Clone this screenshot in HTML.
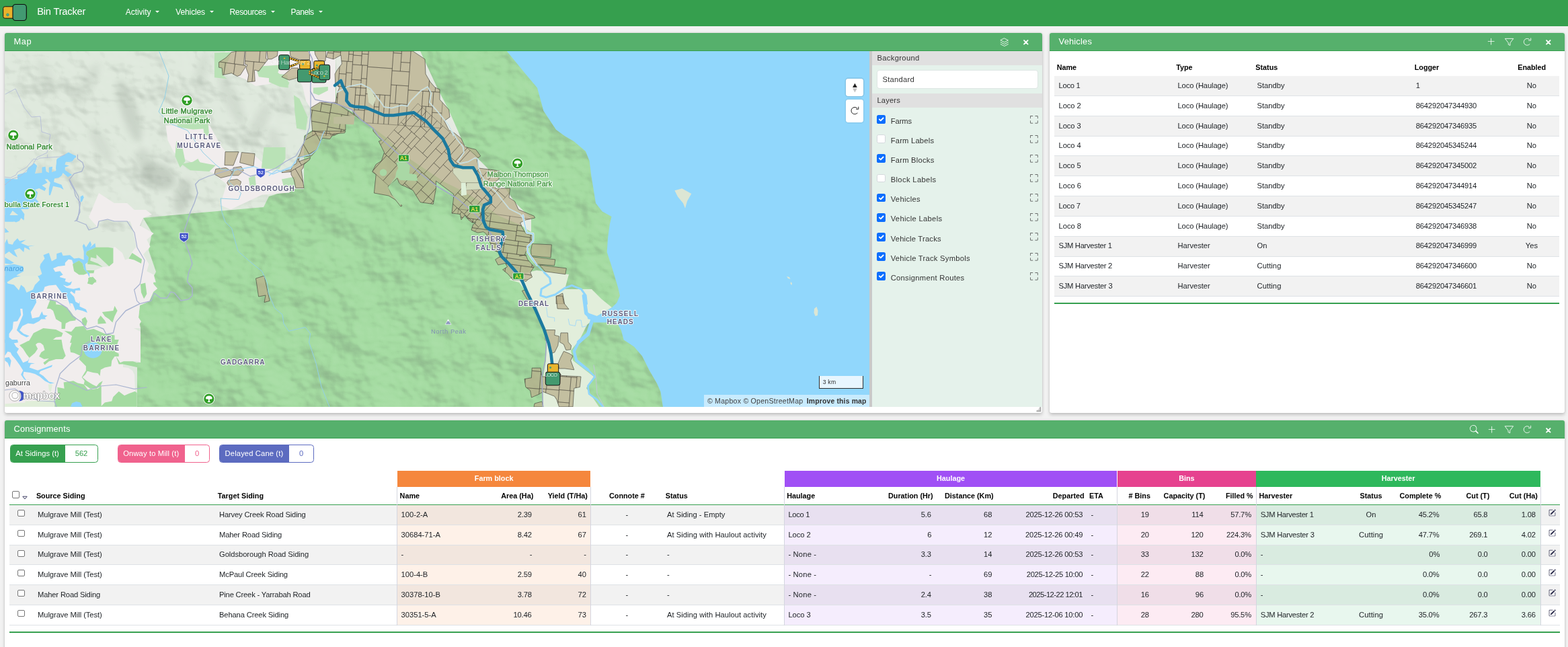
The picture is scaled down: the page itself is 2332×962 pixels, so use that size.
<!DOCTYPE html><html lang="en"><head><meta charset="utf-8"><title>Bin Tracker</title><style>
*{box-sizing:border-box}
html,body{margin:0;padding:0;width:2332px;height:962px;overflow:hidden}
#app{position:absolute;left:0;top:0;width:2332px;height:962px;overflow:hidden}
body{background:#f2f2f2;font-family:"Liberation Sans",sans-serif;font-size:11.2px;color:#212529;position:relative}
.t{position:absolute;white-space:pre;display:block}
.b{position:absolute}
.i{position:absolute;display:block;overflow:visible}
.panel{position:absolute;background:#fff;border-radius:3px;box-shadow:0 2.5px 5px rgba(0,0,0,.19),0 0 3px rgba(0,0,0,.1)}
.ph{position:absolute;left:0;top:0;right:0;height:27px;background:#56b06c;border-bottom:1.4px solid #36a04f;border-radius:3px 3px 0 0}
nav{position:absolute;left:0;top:0;width:2332px;height:38.6px;background:#369f4e}
.caret{position:absolute;width:0;height:0;border-left:3.2px solid transparent;border-right:3.2px solid transparent;border-top:3.3px solid #fff}
.cb{position:absolute;border-radius:2.6px}
.cb.on{background:#0d6efd}
.cb.off{background:#fff;border:1px solid #d5d9dd}
.cbs{position:absolute;width:10.4px;height:10.4px;border:1px solid #767676;border-radius:2px;background:#fff}
</style></head><body><div id="app">
<nav>
<svg class="i" style="left:0;top:0" width="48" height="39" viewBox="0 0 48 39"><rect x="4.7" y="9.8" width="17" height="17.4" rx="2.6" fill="#e8b22c" stroke="#111" stroke-width="1"/><circle cx="11.4" cy="21.9" r="1.9" fill="#4aa98a" stroke="#2b8a6e" stroke-width=".6"/><rect x="19" y="6.5" width="20.3" height="24" rx="4.2" fill="#429a72" stroke="#0b0b0b" stroke-width="1.1"/></svg>
<span class="t" style="left:55.20px;top:8.45px;font-size:14.7px;line-height:19.11px;color:#fff;letter-spacing:-0.198px;">Bin Tracker</span>
<span class="t" style="left:186.70px;top:11.24px;font-size:12px;line-height:15.6px;color:#fff;letter-spacing:-0.031px;">Activity</span>
<i class="caret" style="left:231.2px;top:16.2px"></i>
<span class="t" style="left:261.30px;top:11.24px;font-size:12px;line-height:15.6px;color:#fff;letter-spacing:-0.129px;">Vehicles</span>
<i class="caret" style="left:312.0px;top:16.2px"></i>
<span class="t" style="left:341.50px;top:11.24px;font-size:12px;line-height:15.6px;color:#fff;letter-spacing:-0.345px;">Resources</span>
<i class="caret" style="left:403.0px;top:16.2px"></i>
<span class="t" style="left:432.50px;top:11.24px;font-size:12px;line-height:15.6px;color:#fff;letter-spacing:-0.461px;">Panels</span>
<i class="caret" style="left:474.0px;top:16.2px"></i>
</nav>
<section class="panel" style="left:7px;top:49px;width:1543px;height:565px">
<div class="ph"></div>
<span class="t" style="left:13.40px;top:5.14px;font-size:12.8px;line-height:16.64px;color:#fff;letter-spacing:0.647px;">Map</span>
<svg class="i" style="left:1480.20px;top:6.60px" width="13.6" height="13.6" viewBox="0 0 16 16" fill="#fff" ><g fill="none" stroke="#fff" stroke-width="1" stroke-linejoin="round" stroke-linecap="round"><path d="M8 1.2 14.6 4.6 8 8 1.4 4.6z"/><path d="M1.4 8 8 11.4 14.6 8"/><path d="M1.4 11.4 8 14.8 14.6 11.4"/></g></svg>
<svg class="i" style="left:1514.20px;top:9.30px" width="9.6" height="9.6" viewBox="0 0 16 16" fill="#fff" ><g stroke="#fff" stroke-width="3.1" stroke-linecap="round"><path d="M3.4 3.4 12.6 12.6M12.6 3.4 3.4 12.6"/></g></svg>
<div class="b" style="left:0;top:27px;width:1286.2px;height:528.5px;overflow:hidden;background:#a9dcab"><svg width="1287" height="529" viewBox="7 76 1287 529" style="display:block;position:absolute;left:0;top:0;font-family:'Liberation Sans',sans-serif"><defs><filter id="bl" x="-30%" y="-30%" width="160%" height="160%"><feGaussianBlur stdDeviation="5"/></filter><filter id="bl2" x="-30%" y="-30%" width="160%" height="160%"><feGaussianBlur stdDeviation="2.2"/></filter></defs><rect x="7" y="76" width="1287" height="529" fill="#dfe9dd"/>
<polygon points="213.0,324.0 300.0,316.0 392.0,308.0 400.0,292.0 437.0,281.0 452.0,281.0 452.0,202.0 465.0,193.0 462.0,160.0 475.0,152.0 499.0,152.0 499.0,76.0 1294.0,76.0 1294.0,605.0 204.0,605.0 204.0,539.0 209.0,539.0 209.0,488.0 206.0,472.0 208.0,454.0 222.0,448.0 228.0,434.0 234.0,429.0 228.0,422.0 229.0,410.0 232.0,404.0 221.0,372.0 226.0,346.0" fill="#a4dba1" />
<filter id="hs" x="0" y="0" width="100%" height="100%" color-interpolation-filters="sRGB"><feTurbulence type="fractalNoise" baseFrequency="0.012 0.015" numOctaves="4" seed="11"/><feDiffuseLighting surfaceScale="16" diffuseConstant="1" lighting-color="#fff"><feDistantLight azimuth="315" elevation="45"/></feDiffuseLighting><feColorMatrix type="matrix" values="0 0 0 0 0.42  0 0 0 0 0.5  0 0 0 0 0.42  -1.2 0 0 0 0.8485"/></filter>
<filter id="hl" x="0" y="0" width="100%" height="100%" color-interpolation-filters="sRGB"><feTurbulence type="fractalNoise" baseFrequency="0.012 0.015" numOctaves="4" seed="11"/><feDiffuseLighting surfaceScale="16" diffuseConstant="1" lighting-color="#fff"><feDistantLight azimuth="315" elevation="45"/></feDiffuseLighting><feColorMatrix type="matrix" values="0 0 0 0 0.92  0 0 0 0 1.0  0 0 0 0 0.92  1.0 0 0 0 -0.7071"/></filter>
<filter id="hp" x="0" y="0" width="100%" height="100%" color-interpolation-filters="sRGB"><feTurbulence type="fractalNoise" baseFrequency="0.012 0.015" numOctaves="4" seed="5"/><feDiffuseLighting surfaceScale="14" diffuseConstant="1" lighting-color="#fff"><feDistantLight azimuth="315" elevation="45"/></feDiffuseLighting><feColorMatrix type="matrix" values="0 0 0 0 0.4  0 0 0 0 0.44  0 0 0 0 0.4  -1.2 0 0 0 0.8485"/></filter>
<filter id="hpl" x="0" y="0" width="100%" height="100%" color-interpolation-filters="sRGB"><feTurbulence type="fractalNoise" baseFrequency="0.012 0.015" numOctaves="4" seed="5"/><feDiffuseLighting surfaceScale="14" diffuseConstant="1" lighting-color="#fff"><feDistantLight azimuth="315" elevation="45"/></feDiffuseLighting><feColorMatrix type="matrix" values="0 0 0 0 1  0 0 0 0 1  0 0 0 0 1  1.0 0 0 0 -0.7071"/></filter>
<clipPath id="fc"><polygon points="213.0,324.0 300.0,316.0 392.0,308.0 400.0,292.0 437.0,281.0 452.0,281.0 452.0,202.0 465.0,193.0 462.0,160.0 475.0,152.0 499.0,152.0 499.0,76.0 753.8,76.0 780.4,108.6 799.0,130.5 808.4,164.8 827.0,192.8 839.6,201.9 853.3,210.0 871.0,225.0 876.6,239.0 879.3,260.9 882.0,277.0 886.0,302.0 895.8,314.4 909.5,322.0 906.8,333.7 904.0,354.3 902.7,374.9 908.2,391.4 913.7,409.2 919.0,427.0 922.0,439.4 917.3,450.3 910.4,457.0 888.0,470.0 881.3,474.3 883.0,479.5 917.3,479.5 924.0,491.5 927.6,505.2 943.0,515.5 955.0,529.2 965.3,549.8 977.3,570.4 982.5,582.4 986.0,605.0 204.0,605.0 204.0,605.0 204.0,539.0 209.0,539.0 209.0,488.0 206.0,472.0 208.0,454.0 222.0,448.0 228.0,434.0 234.0,429.0 228.0,422.0 229.0,410.0 232.0,404.0 221.0,372.0 226.0,346.0"/></clipPath>
<g clip-path="url(#fc)"><rect x="195" y="76" width="800" height="529" filter="url(#hs)" opacity=".5"/><rect x="195" y="76" width="800" height="529" filter="url(#hl)" opacity=".3"/></g>
<clipPath id="pc"><polygon points="7.0,76.0 500.0,76.0 500.0,160.0 462.0,165.0 452.0,205.0 452.0,285.0 392.0,312.0 213.0,328.0 205.0,345.0 132.0,345.0 100.0,270.0 7.0,250.0"/></clipPath>
<g clip-path="url(#pc)"><rect x="7" y="76" width="500" height="280" filter="url(#hp)" opacity=".32"/><rect x="7" y="76" width="500" height="280" filter="url(#hpl)" opacity=".25"/></g>
<g clip-path="url(#pc)">
<ellipse cx="192" cy="165" rx="12" ry="48" transform="rotate(-18 192 165)" fill="#5a665a" opacity="0.16" filter="url(#bl)"/>
<ellipse cx="236" cy="262" rx="26" ry="18" transform="rotate(25 236 262)" fill="#5a665a" opacity="0.2" filter="url(#bl)"/>
<ellipse cx="272" cy="292" rx="12" ry="26" transform="rotate(15 272 292)" fill="#5a665a" opacity="0.18" filter="url(#bl)"/>
<ellipse cx="215" cy="240" rx="12" ry="20" transform="rotate(-20 215 240)" fill="#5a665a" opacity="0.12" filter="url(#bl)"/>
<ellipse cx="345" cy="150" rx="10" ry="40" transform="rotate(-25 345 150)" fill="#5a665a" opacity="0.1" filter="url(#bl)"/>
<ellipse cx="385" cy="185" rx="10" ry="34" transform="rotate(25 385 185)" fill="#5a665a" opacity="0.1" filter="url(#bl)"/>
<ellipse cx="130" cy="125" rx="10" ry="36" transform="rotate(28 130 125)" fill="#5a665a" opacity="0.09" filter="url(#bl)"/>
<ellipse cx="70" cy="115" rx="9" ry="30" transform="rotate(-25 70 115)" fill="#5a665a" opacity="0.07" filter="url(#bl)"/>
<ellipse cx="300" cy="105" rx="9" ry="28" transform="rotate(15 300 105)" fill="#5a665a" opacity="0.08" filter="url(#bl)"/>
<ellipse cx="410" cy="215" rx="10" ry="26" transform="rotate(-15 410 215)" fill="#5a665a" opacity="0.09" filter="url(#bl)"/>
<ellipse cx="150" cy="215" rx="10" ry="30" transform="rotate(-30 150 215)" fill="#5a665a" opacity="0.09" filter="url(#bl)"/>
<ellipse cx="425" cy="150" rx="8" ry="22" transform="rotate(10 425 150)" fill="#5a665a" opacity="0.07" filter="url(#bl)"/>
</g>
<polygon points="335.0,76.0 499.0,76.0 499.0,153.0 476.0,153.0 462.0,161.0 455.0,150.0 450.0,128.0 440.0,112.0 420.0,118.0 400.0,125.0 380.0,128.0 365.0,118.0 350.0,112.0 338.0,100.0" fill="#f1eded" />
<polygon points="246.4,186.6 311.9,186.6 327.5,214.7 336.9,227.1 374.3,227.1 405.5,255.2 436.7,252.1 449.2,239.6 436.7,270.8 430.4,286.4 389.9,289.5 343.1,311.4 327.5,305.1 336.9,273.9 318.2,258.3 280.7,239.6 258.9,227.1 249.5,208.4" fill="#f1eded" />
<polygon points="757.0,416.0 771.0,408.0 798.0,402.0 846.0,408.0 840.0,430.0 880.0,430.0 895.0,445.0 910.0,457.0 888.0,470.0 873.0,483.0 862.0,505.0 849.0,521.0 852.0,536.0 883.0,560.0 872.0,577.0 891.0,605.0 807.0,605.0 808.0,560.0 812.0,536.0 813.0,508.0 807.0,483.0 797.0,457.0 785.0,437.0 772.0,420.0" fill="#e2eedb" />
<polygon points="753.8,76.0 780.4,108.6 799.0,130.5 808.4,164.8 827.0,192.8 839.6,201.9 853.3,210.0 871.0,225.0 876.6,239.0 879.3,260.9 882.0,277.0 886.0,302.0 895.8,314.4 909.5,322.0 906.8,333.7 904.0,354.3 902.7,374.9 908.2,391.4 913.7,409.2 919.0,427.0 922.0,439.4 917.3,450.3 910.4,457.0 888.0,470.0 881.3,474.3 883.0,479.5 917.3,479.5 924.0,491.5 927.6,505.2 943.0,515.5 955.0,529.2 965.3,549.8 977.3,570.4 982.5,582.4 986.0,605.0 1294.0,605.0 1294.0,76.0" fill="#91d7fc" />
<polygon points="1003.4,283.3 1014.3,280.2 1028.3,288.0 1022.0,298.9 1019.0,309.8 1015.9,302.0 1008.0,292.6" fill="#dce6d4" />
<polygon points="1170.0,411.0 1174.0,412.0 1175.5,415.0 1172.0,414.0" fill="#dce6d4" />
<polygon points="1176.0,419.0 1178.0,421.0 1177.5,424.0 1175.5,422.0" fill="#dce6d4" />
<polygon points="1211.0,459.0 1214.5,456.0 1216.5,462.0 1216.0,469.0 1212.5,470.0 1210.5,465.0" fill="#dce6d4" />
<polygon points="262.0,174.0 307.5,170.0 309.0,191.0 287.0,192.6 264.0,189.0" fill="#b9e2b6" />
<polygon points="262.3,209.6 271.7,220.9 275.5,239.8 267.9,249.2 260.4,232.3" fill="#b9e2b6" />
<polygon points="301.9,187.0 309.4,183.2 311.3,202.1 303.8,200.2" fill="#b9e2b6" />
<polygon points="392.5,219.1 424.5,219.1 424.5,236.0 415.1,251.1 388.7,251.1" fill="#b9e2b6" />
<polygon points="318.9,78.5 344.3,77.5 331.1,111.5 337.7,117.2 318.9,115.3" fill="#b9e2b6" />
<polygon points="382.1,105.8 390.6,98.3 417.9,96.4 413.2,107.7 430.2,122.8 429.2,126.6 409.4,117.2 384.9,114.3" fill="#b9e2b6" />
<polygon points="279.2,245.5 294.3,236.0 301.9,249.2 290.6,251.1" fill="#b9e2b6" />
<polygon points="400.0,108.4 427.4,111.2 428.8,130.4 416.5,129.0 400.0,122.1" fill="#b9e2b6" />
<polygon points="437.0,141.4 445.3,146.8 457.6,174.3 454.9,193.5 441.2,190.8 438.4,166.1" fill="#b9e2b6" />
<polygon points="465.9,130.4 487.8,129.0 487.8,134.5 474.1,141.4 465.9,138.6" fill="#b9e2b6" />
<polygon points="269.8,243.8 290.6,240.0 320.8,245.7 311.3,255.1 283.0,253.2" fill="#b9e2b6" />
<polygon points="369.8,264.5 379.2,260.8 381.1,277.7 371.7,277.7" fill="#b9e2b6" />
<polygon points="418.9,266.4 439.6,262.6 439.6,277.7 422.6,279.6" fill="#b9e2b6" />
<polygon points="129.9,320.0 155.9,326.2 171.5,328.3 192.3,326.2 197.5,340.8 202.7,366.8 195.4,376.1 191.3,384.4 186.1,386.5 181.9,376.1 170.5,366.8 168.4,368.9 168.4,390.7 162.2,395.9 152.8,396.9 140.3,402.1 139.3,406.3 133.1,406.3 133.1,412.5 138.3,411.5 143.5,419.8 231.8,419.8 228.7,408.4 218.3,403.2 221.4,392.8 213.1,378.2 223.5,366.8 218.3,356.4 228.7,347.0 207.9,335.6 213.1,320.0" fill="#f1eded" />
<polygon points="79.0,399.0 86.3,395.9 96.7,394.8 96.7,390.7 101.9,385.5 107.1,386.5 109.1,392.8 108.1,392.8 110.2,403.2 117.5,408.4 124.7,408.4 129.9,406.3 133.1,412.5 131.0,413.6 132.0,419.8 93.6,419.8 97.7,414.6 87.3,411.5 93.6,408.4 89.4,403.2 82.1,404.2" fill="#f1eded" />
<polygon points="132.0,323.0 147.0,287.0 170.0,302.0 189.0,302.0 200.0,312.0 217.0,312.0 226.0,319.0 213.0,324.0 208.0,335.0 200.0,330.0 189.0,329.0 170.0,329.0 160.0,326.0 147.0,329.0 145.0,338.0" fill="#f1eded" />
<polygon points="7.0,410.0 229.0,410.0 228.0,422.0 234.0,429.0 228.0,434.0 222.0,448.0 208.0,454.0 206.0,472.0 210.0,478.0 207.0,483.0 209.0,488.0 199.0,488.0 209.0,493.0 209.0,539.0 204.0,537.0 184.0,537.0 179.0,539.0 172.0,530.0 183.0,541.0 183.0,546.0 191.0,547.0 197.0,551.0 200.0,557.0 201.0,582.0 192.0,585.0 185.0,588.0 177.0,582.0 168.0,590.0 166.0,597.0 156.0,599.0 150.0,605.0 7.0,605.0" fill="#f1eded" />
<polygon points="7.3,320.0 33.3,320.0 36.4,326.2 31.2,324.2 29.1,328.3 23.9,330.4 15.6,327.3 12.5,322.1 7.3,329.4" fill="#8fd5fb" />
<polygon points="7.3,361.6 10.4,355.3 12.5,362.6 18.7,363.7 20.8,359.5 26.0,354.3 29.1,358.5 38.5,356.4 31.2,361.6 41.6,365.7 52.0,364.7 42.6,366.8 44.7,372.0 36.4,367.8 35.3,375.1 29.1,368.9 20.8,372.0 26.0,382.4 19.8,379.3 13.5,374.1 7.3,378.2" fill="#8fd5fb" />
<polygon points="7.3,338.7 13.5,344.9 7.3,346.0" fill="#8fd5fb" />
<polygon points="7.3,382.4 20.8,390.7 15.6,392.8 7.3,391.7" fill="#8fd5fb" />
<polygon points="60.3,392.8 66.5,384.4 64.4,379.3 72.8,376.1 76.9,388.6 84.2,384.4 84.2,377.2 91.5,375.1 93.6,380.3 104.0,379.3 110.2,384.4 117.5,383.4 124.7,386.5 124.7,374.1 122.7,365.7 124.7,362.6 127.9,367.8 134.1,358.5 136.2,363.7 134.1,367.8 141.4,361.6 142.4,367.8 128.9,374.1 127.9,378.2 132.0,382.4 131.0,389.6 126.8,392.8 127.9,401.1 133.1,406.3 133.1,412.5 129.9,406.3 124.7,400.0 122.7,391.7 117.5,387.6 109.1,392.8 107.1,386.5 101.9,385.5 96.7,390.7 96.7,394.8 86.3,395.9 79.0,399.0 82.1,404.2 89.4,403.2 93.6,408.4 87.3,411.5 97.7,414.6 93.6,419.8 60.3,419.8 56.1,411.5 62.4,407.3 59.3,396.9" fill="#8fd5fb" />
<polygon points="7.3,394.8 20.8,392.8 34.3,395.9 35.3,403.2 26.0,408.4 20.8,413.6 29.1,415.6 24.9,419.8 7.3,419.8" fill="#8fd5fb" />
<polygon points="7.3,410.0 89.4,410.0 88.4,413.1 93.6,417.3 97.7,414.2 96.7,418.3 102.9,420.4 107.1,418.3 105.0,423.5 99.8,425.6 93.6,423.5 98.8,427.7 109.1,429.8 118.5,427.7 119.5,431.8 112.3,431.8 111.2,437.0 106.0,432.9 104.0,434.9 110.2,441.2 112.3,448.5 117.5,451.6 118.5,447.4 118.5,455.7 127.9,459.9 129.9,465.1 122.7,462.0 114.3,459.9 112.3,462.0 108.1,451.6 104.0,450.5 105.0,455.7 101.9,447.4 99.8,441.2 93.6,437.0 88.4,430.8 83.2,423.5 72.8,424.6 66.5,426.6 64.4,432.9 52.0,436.0 54.1,449.5 48.9,458.9 45.7,464.1 47.8,473.4 58.2,471.3 62.4,463.0 64.4,468.2 70.7,469.3 66.5,472.4 68.6,474.4 61.3,474.4 58.2,477.6 49.9,481.7 41.6,480.7 33.3,484.8 29.1,491.1 35.3,496.3 43.7,499.4 39.5,501.5 31.2,497.3 24.9,491.1 28.1,482.8 34.3,468.2 33.3,458.9 30.1,458.9 31.2,468.2 26.0,477.6 19.8,478.6 18.7,489.0 13.5,496.3 13.5,501.5 23.9,509.8 7.3,509.8" fill="#8fd5fb" />
<polygon points="10.4,419.4 20.8,413.1 31.2,410.0 56.1,410.0 59.3,416.2 52.0,423.5 48.9,430.8 39.5,434.9 36.4,427.7 31.2,423.5 28.1,431.8 20.8,423.5 11.4,421.4" fill="#e2ebdd" />
<polygon points="7.3,505.0 26.0,505.0 27.0,509.2 20.8,510.2 23.9,515.4 28.1,518.5 24.9,523.7 30.1,532.0 34.3,539.3 41.6,536.2 43.7,532.0 41.6,539.3 52.0,540.3 45.7,541.4 43.7,546.6 56.1,550.7 72.8,544.5 78.0,542.4 76.9,545.5 60.3,551.8 58.2,554.9 64.4,559.1 72.8,567.4 81.1,569.4 74.8,570.5 66.5,566.3 59.3,560.1 52.0,555.9 44.7,553.9 35.3,552.8 34.3,558.0 39.5,566.3 35.3,563.2 31.2,557.0 34.3,550.7 29.1,542.4 22.9,534.1 17.7,527.9 15.6,523.7 11.4,522.7 7.3,528.9" fill="#8fd5fb" />
<polygon points="7.3,532.0 13.5,531.0 16.6,536.2 14.6,546.6 11.4,539.3 7.3,536.2" fill="#8fd5fb" />
<ellipse cx="138.300" cy="520.8" rx="13.4" ry="11.6" fill="#8fd5fb"/>
<polygon points="105.0,604.8 107.1,599.6 113.3,597.0 119.5,598.6 122.7,604.8" fill="#8fd5fb" />
<polygon points="7.3,273.7 7.3,265.3 26.0,266.4 26.0,260.1 39.5,256.0 41.6,249.8 50.9,242.5 55.1,246.6 52.0,258.1 62.4,257.0 62.4,248.7 67.6,247.7 68.6,254.9 72.8,257.0 72.8,248.7 78.0,247.7 76.9,256.0 83.2,253.9 84.2,237.3 90.4,236.2 101.9,230.0 112.3,231.0 113.3,234.2 99.8,235.2 100.8,239.4 110.2,241.4 104.0,240.9 96.7,240.4 95.6,244.6 102.9,246.6 96.7,248.7 96.7,252.9 107.1,260.1 100.8,263.3 93.6,257.0 91.5,261.2 87.3,264.3 81.1,265.3 80.0,270.5 91.5,274.7 94.6,282.0 89.4,278.9 79.0,276.8 76.9,284.1 74.8,290.3 72.8,290.3 72.8,279.9 74.8,271.6 70.7,266.4 66.5,266.4 70.7,271.6 62.4,275.7 68.6,279.9 66.5,284.1 58.2,279.9 52.0,282.0 56.1,286.1 54.1,294.4 48.9,296.5 39.5,296.5 26.0,296.5 13.5,300.7 7.3,304.8" fill="#8fd5fb" />
<polygon points="119.5,292.4 123.2,290.3 124.7,293.4 122.1,299.6 119.5,300.7" fill="#8fd5fb" />
<polygon points="7.3,296.5 13.5,294.4 26.0,296.5 36.4,292.4 52.0,294.4 56.1,298.6 61.3,309.0 52.0,302.8 41.6,311.1 31.2,311.1 36.4,318.4 35.3,327.7 29.1,321.5 18.7,313.2 14.6,319.4 20.8,329.8 7.3,329.8" fill="#8fd5fb" />
<polygon points="83.0,251.1 84.9,236.0 101.9,226.6 113.2,232.3 107.5,239.8 98.1,239.8 94.3,251.1" fill="#8fd5fb" />
<polygon points="128.9,374.1 142.4,367.8 161.1,367.8 168.4,368.9 168.4,390.7 162.2,395.9 143.5,378.2 143.5,384.4 135.1,382.4 134.1,387.6 145.5,391.7 152.8,396.9 141.4,393.8 129.9,392.8 132.0,382.4 127.9,378.2" fill="#a4dba1" />
<polygon points="108.1,392.8 117.5,387.6 122.7,391.7 124.7,400.0 129.9,406.3 124.7,408.4 117.5,408.4 110.2,403.2" fill="#a4dba1" />
<polygon points="191.3,384.4 196.5,376.1 211.0,385.5 210.0,391.7 199.6,386.5" fill="#a4dba1" />
<polygon points="131.0,413.6 138.3,411.5 143.5,419.8 132.0,419.8" fill="#a4dba1" />
<polygon points="128.9,402.1 140.3,402.1 139.3,406.3 133.1,406.3" fill="#a4dba1" />
<polygon points="129.9,421.4 133.1,412.1 139.3,413.1 143.5,417.3 137.2,423.5" fill="#a4dba1" />
<polygon points="69.6,458.9 74.8,445.3 83.2,448.5 83.2,452.6 93.6,453.7 104.0,462.0 109.1,469.3 113.3,472.4 112.3,476.5 104.0,477.6 97.7,480.7 96.7,489.0 91.5,489.0 91.5,479.6 83.2,474.4 79.0,462.0 74.8,458.9" fill="#a4dba1" />
<polygon points="151.8,464.1 168.4,462.0 170.5,454.7 174.6,462.0 170.5,470.3 167.4,479.6 162.2,474.4 155.9,470.3" fill="#a4dba1" />
<polygon points="145.5,475.5 149.7,469.3 155.9,476.5 158.0,480.7 145.5,481.7" fill="#a4dba1" />
<polygon points="121.6,474.4 126.8,471.3 129.9,477.6 127.9,484.8 122.7,482.8" fill="#a4dba1" />
<polygon points="208.9,422.5 216.2,420.4 218.3,437.0 214.1,444.3 210.0,434.9" fill="#a4dba1" />
<polygon points="41.6,509.8 49.9,495.2 64.4,488.0 83.2,490.0 93.6,495.2 91.5,500.4 83.2,501.5 72.8,509.8" fill="#a4dba1" />
<polygon points="104.0,509.8 107.1,499.4 95.6,492.1 106.0,493.2 112.3,485.9 124.7,484.8 128.9,491.1 139.3,489.0 155.9,496.3 170.5,498.4 170.5,509.8" fill="#a4dba1" />
<polygon points="29.1,513.3 41.6,507.1 54.1,505.0 91.5,505.0 93.6,517.5 97.7,528.9 93.6,534.1 83.2,534.1 72.8,537.2 66.5,542.4 64.4,539.3 72.8,533.1 65.5,534.1 58.2,529.9 61.3,523.7 66.5,520.6 64.4,513.3 58.2,508.1 53.0,512.3 56.1,518.5 52.0,524.8 43.7,532.0 39.5,526.8 34.3,518.5" fill="#a4dba1" />
<polygon points="105.0,523.7 104.0,517.5 108.1,505.0 176.7,505.0 170.5,522.7 176.7,525.8 176.7,529.9 170.5,529.9 166.3,536.2 165.3,544.5 155.9,546.6 149.7,549.7 148.6,559.1 145.5,554.9 138.3,553.9 129.9,551.8 126.8,557.0 122.7,561.1 128.9,566.3 137.2,571.5 143.5,574.6 147.6,569.4 152.8,566.3 149.7,573.6 143.5,577.8 134.1,577.8 124.7,571.5 125.8,566.3 121.6,561.1 127.9,550.7 127.9,544.5 117.5,534.1 119.5,528.9 110.2,524.8" fill="#a4dba1" />
<polygon points="172.6,529.9 178.8,539.3 184.0,537.2 197.5,537.2 203.7,539.3 205.8,546.6 183.0,541.4 176.7,541.4" fill="#a4dba1" />
<polygon points="81.1,604.8 82.1,595.4 86.3,588.2 85.2,575.7 95.6,577.8 94.6,568.4 109.1,566.3 115.4,569.4 124.7,571.5 131.0,579.8 145.5,577.8 150.7,573.6 150.7,604.8" fill="#a4dba1" />
<polygon points="149.7,604.8 155.9,598.6 166.3,596.5 168.4,590.2 176.7,581.9 185.0,588.2 192.3,585.0 200.6,581.9 203.7,584.0 203.7,604.8" fill="#a4dba1" />
<polygon points="37.4,596.5 72.8,595.4 78.0,571.5 71.7,571.5 72.8,579.8 80.0,588.2 81.1,604.8 7.3,604.8 7.3,600.6 37.4,598.6" fill="#e0eed9" />
<ellipse cx="138.300" cy="520.8" rx="13.4" ry="11.6" fill="#8fd5fb"/>
<polygon points="105.0,604.8 107.1,599.6 113.3,597.0 119.5,598.6 122.7,604.8" fill="#8fd5fb" />
<polygon points="499.0,76.0 625.0,76.0 650.0,130.0 668.0,165.0 690.0,215.0 715.0,240.0 745.0,270.0 765.0,300.0 790.0,325.0 790.0,345.0 775.0,335.0 740.0,320.0 715.0,300.0 690.0,285.0 660.0,270.0 630.0,250.0 600.0,230.0 575.0,205.0 555.0,190.0 530.0,170.0 500.0,152.0" fill="#f1eded" opacity=".85"/>
<polygon points="487.8,76.0 614.0,76.0 632.0,88.0 633.0,110.0 640.0,122.0 647.0,130.0 654.0,133.0 654.0,148.0 667.6,163.0 669.0,174.0 660.7,179.8 667.6,193.5 676.0,198.0 686.0,206.0 691.4,218.3 707.8,222.4 714.7,232.0 709.0,236.0 712.0,250.0 743.5,254.0 742.0,266.4 734.0,272.0 736.6,280.0 758.6,280.0 757.0,293.8 765.5,299.3 771.0,311.6 794.3,321.2 795.6,324.0 782.0,326.9 773.7,331.0 776.4,337.8 782.0,347.4 791.5,350.2 790.2,361.2 782.0,375.0 780.5,379.0 772.3,380.4 782.0,379.0 784.7,385.9 794.3,396.8 788.8,405.0 791.5,412.0 784.7,416.0 782.0,418.8 777.8,416.0 762.7,416.0 755.8,407.8 747.6,401.0 754.5,396.8 751.7,391.4 740.8,394.0 736.6,385.9 743.5,381.7 740.8,374.9 733.9,372.0 722.9,347.4 718.8,344.7 710.6,346.0 701.0,342.0 703.7,333.7 707.8,331.0 702.3,331.0 696.8,326.9 691.4,320.0 686.0,326.7 684.5,318.5 672.0,317.0 674.9,291.0 674.4,288.3 648.4,269.0 648.4,280.0 644.3,303.4 625.0,300.7 614.0,282.8 603.0,277.3 596.2,274.6 593.5,271.8 590.8,265.0 577.0,277.3 582.4,289.7 590.7,296.5 598.0,306.0 596.0,307.0 588.0,297.0 578.0,291.0 556.4,287.0 559.2,259.5 553.7,255.4 559.2,244.4 567.4,239.0 571.5,226.6 563.3,210.0 567.4,208.7 555.0,195.0 555.0,190.8 537.2,178.4 527.6,171.5 523.5,163.3 498.8,153.7 501.5,138.6 505.0,130.0 498.8,125.0 498.1,110.0 501.5,104.0 508.4,95.0 507.0,82.0 496.0,88.0 485.0,85.0" fill="#b9b08c" stroke="#3b3a33" stroke-width="0.7" stroke-linejoin="round" stroke-opacity=".85" fill-opacity=".76"/>
<polygon points="498.8,152.3 527.6,171.5 513.9,177.0 513.9,193.5 496.1,201.7 464.5,201.7 464.5,193.5 461.7,160.6 475.5,152.3" fill="#b9b08c" stroke="#3b3a33" stroke-width="0.7" stroke-linejoin="round" stroke-opacity=".85" fill-opacity=".76"/>
<polygon points="464.5,195.0 514.0,195.0 512.5,197.7 496.0,199.0 490.6,206.7 479.6,205.3 476.8,210.0 471.4,222.4 463.0,232.0 445.3,233.4 444.0,240.3 461.7,234.0 460.4,237.5 452.0,244.4 450.8,250.0 448.0,252.6 452.0,279.4 439.8,279.4 437.0,266.4 433.0,259.5 433.0,255.4 419.2,256.7 419.2,254.0 433.0,252.6 434.3,247.0 441.0,243.0 442.5,234.8 445.3,230.7 452.0,211.5 453.5,201.9 460.4,197.7" fill="#b9b08c" stroke="#3b3a33" stroke-width="0.7" stroke-linejoin="round" stroke-opacity=".85" fill-opacity=".76"/>
<polygon points="325.5,92.6 335.8,86.0 344.3,77.5 352.8,76.1 364.2,76.1 362.3,96.4 366.0,98.3 362.3,104.0 357.5,111.5 352.8,113.4 344.3,108.7 331.1,111.5 330.2,101.1 325.5,100.2" fill="#b9b08c" stroke="#3b3a33" stroke-width="0.7" stroke-linejoin="round" stroke-opacity=".85" fill-opacity=".76"/>
<polygon points="365.1,76.1 396.2,76.1 395.3,87.0 398.1,88.9 390.6,98.3 387.7,102.1 384.9,105.8 378.3,104.0 379.2,120.9 367.9,121.9 369.8,111.5 366.0,101.1 367.9,96.4 364.2,95.5" fill="#b9b08c" stroke="#3b3a33" stroke-width="0.7" stroke-linejoin="round" stroke-opacity=".85" fill-opacity=".76"/>
<polygon points="397.2,76.1 413.2,76.1 412.3,83.2 403.8,87.9 398.1,87.9" fill="#b9b08c" stroke="#3b3a33" stroke-width="0.7" stroke-linejoin="round" stroke-opacity=".85" fill-opacity=".76"/>
<polygon points="431.1,76.1 460.4,76.1 460.4,88.9 445.3,88.9 432.1,84.2" fill="#b9b08c" stroke="#3b3a33" stroke-width="0.7" stroke-linejoin="round" stroke-opacity=".85" fill-opacity=".76"/>
<polygon points="418.9,114.3 434.0,101.1 443.4,101.1 443.4,115.3 430.2,119.1" fill="#b9b08c" stroke="#3b3a33" stroke-width="0.7" stroke-linejoin="round" stroke-opacity=".85" fill-opacity=".76"/>
<polygon points="467.9,76.1 484.9,76.1 484.0,90.8 473.6,89.8 468.9,81.3" fill="#b9b08c" stroke="#3b3a33" stroke-width="0.7" stroke-linejoin="round" stroke-opacity=".85" fill-opacity=".76"/>
<polygon points="335.0,225.7 355.0,225.7 347.0,246.0 334.0,245.5" fill="#b9b08c" stroke="#3b3a33" stroke-width="0.7" stroke-linejoin="round" stroke-opacity=".85" fill-opacity=".76"/>
<polygon points="359.4,226.6 379.0,228.5 377.0,247.0 356.6,241.7" fill="#b9b08c" stroke="#3b3a33" stroke-width="0.7" stroke-linejoin="round" stroke-opacity=".85" fill-opacity=".76"/>
<polygon points="320.8,251.3 335.8,249.4 345.3,255.0 343.4,260.8 328.3,264.5 318.9,258.9" fill="#b9b08c" stroke="#3b3a33" stroke-width="0.7" stroke-linejoin="round" stroke-opacity=".85" fill-opacity=".76"/>
<polygon points="347.0,249.4 358.5,247.5 362.3,253.2 354.7,260.8 345.3,260.8" fill="#b9b08c" stroke="#3b3a33" stroke-width="0.7" stroke-linejoin="round" stroke-opacity=".85" fill-opacity=".76"/>
<polygon points="339.6,268.3 352.8,266.4 358.5,270.0 356.6,277.7 341.5,277.7 337.7,272.0" fill="#b9b08c" stroke="#3b3a33" stroke-width="0.7" stroke-linejoin="round" stroke-opacity=".85" fill-opacity=".76"/>
<polygon points="380.5,414.0 393.0,410.0 397.0,428.7 401.0,447.4 393.0,449.5 395.0,439.0 384.6,441.0" fill="#b9b08c" stroke="#3b3a33" stroke-width="0.7" stroke-linejoin="round" stroke-opacity=".85" fill-opacity=".76"/>
<polygon points="791.5,362.5 820.3,363.9 819.0,383.1 790.2,380.4 789.5,372.1" fill="#b9b08c" stroke="#3b3a33" stroke-width="0.7" stroke-linejoin="round" stroke-opacity=".85" fill-opacity=".76"/>
<polygon points="790.2,381.7 825.8,385.9 824.5,394.8 795.6,392.7" fill="#b9b08c" stroke="#3b3a33" stroke-width="0.7" stroke-linejoin="round" stroke-opacity=".85" fill-opacity=".76"/>
<polygon points="802.5,394.1 842.3,398.9 840.9,407.8 810.7,403.7" fill="#b9b08c" stroke="#3b3a33" stroke-width="0.7" stroke-linejoin="round" stroke-opacity=".85" fill-opacity=".76"/>
<polygon points="776.4,432.5 780.5,431.1 788.8,446.2 784.7,446.2" fill="#b9b08c" stroke="#3b3a33" stroke-width="0.7" stroke-linejoin="round" stroke-opacity=".85" fill-opacity=".76"/>
<polygon points="827.2,440.8 836.8,436.0 839.6,451.7 827.2,451.7" fill="#b9b08c" stroke="#3b3a33" stroke-width="0.7" stroke-linejoin="round" stroke-opacity=".85" fill-opacity=".76"/>
<polygon points="827.2,440.0 836.7,440.0 838.4,450.3 846.0,459.7 829.0,458.9" fill="#b9b08c" stroke="#3b3a33" stroke-width="0.7" stroke-linejoin="round" stroke-opacity=".85" fill-opacity=".76"/>
<polygon points="811.8,490.6 825.5,490.6 824.7,498.3 831.5,500.0 829.8,513.8 824.7,524.0 817.8,525.8 816.0,512.0 811.0,505.2" fill="#b9b08c" stroke="#3b3a33" stroke-width="0.7" stroke-linejoin="round" stroke-opacity=".85" fill-opacity=".76"/>
<polygon points="834.0,494.9 844.4,494.9 845.2,508.6 849.5,513.8 848.7,519.8 841.8,520.6 838.4,512.0 832.4,508.6" fill="#b9b08c" stroke="#3b3a33" stroke-width="0.7" stroke-linejoin="round" stroke-opacity=".85" fill-opacity=".76"/>
<polygon points="838.4,522.3 847.0,525.8 852.0,529.2 848.7,536.0 853.8,549.8 840.0,548.0 831.5,548.0 829.8,541.2 833.2,532.6" fill="#b9b08c" stroke="#3b3a33" stroke-width="0.7" stroke-linejoin="round" stroke-opacity=".85" fill-opacity=".76"/>
<polygon points="791.2,547.2 804.0,547.2 805.8,560.0 811.0,560.0 812.7,553.2 831.5,553.2 835.0,558.4 864.0,560.0 862.4,575.5 853.8,577.2 852.0,604.9 831.5,604.9 828.0,594.4 824.7,589.2 807.5,582.4 802.4,585.8 790.4,591.0 788.6,580.7 781.8,575.5 780.0,563.5 790.4,561.8" fill="#b9b08c" stroke="#3b3a33" stroke-width="0.7" stroke-linejoin="round" stroke-opacity=".85" fill-opacity=".76"/>
<polygon points="795.0,600.0 806.0,597.0 808.0,605.0 794.0,605.0" fill="#b9b08c" stroke="#3b3a33" stroke-width="0.7" stroke-linejoin="round" stroke-opacity=".85" fill-opacity=".76"/>
<clipPath id="c1"><polygon points="487.8,76.0 614.0,76.0 632.0,88.0 633.0,110.0 640.0,122.0 647.0,130.0 654.0,133.0 654.0,148.0 667.6,163.0 669.0,174.0 660.7,179.8 667.6,193.5 676.0,198.0 686.0,206.0 691.4,218.3 707.8,222.4 714.7,232.0 709.0,236.0 712.0,250.0 743.5,254.0 742.0,266.4 734.0,272.0 736.6,280.0 758.6,280.0 757.0,293.8 765.5,299.3 771.0,311.6 794.3,321.2 795.6,324.0 782.0,326.9 773.7,331.0 776.4,337.8 782.0,347.4 791.5,350.2 790.2,361.2 782.0,375.0 780.5,379.0 772.3,380.4 782.0,379.0 784.7,385.9 794.3,396.8 788.8,405.0 791.5,412.0 784.7,416.0 782.0,418.8 777.8,416.0 762.7,416.0 755.8,407.8 747.6,401.0 754.5,396.8 751.7,391.4 740.8,394.0 736.6,385.9 743.5,381.7 740.8,374.9 733.9,372.0 722.9,347.4 718.8,344.7 710.6,346.0 701.0,342.0 703.7,333.7 707.8,331.0 702.3,331.0 696.8,326.9 691.4,320.0 686.0,326.7 684.5,318.5 672.0,317.0 674.9,291.0 674.4,288.3 648.4,269.0 648.4,280.0 644.3,303.4 625.0,300.7 614.0,282.8 603.0,277.3 596.2,274.6 593.5,271.8 590.8,265.0 577.0,277.3 582.4,289.7 590.7,296.5 598.0,306.0 596.0,307.0 588.0,297.0 578.0,291.0 556.4,287.0 559.2,259.5 553.7,255.4 559.2,244.4 567.4,239.0 571.5,226.6 563.3,210.0 567.4,208.7 555.0,195.0 555.0,190.8 537.2,178.4 527.6,171.5 523.5,163.3 498.8,153.7 501.5,138.6 505.0,130.0 498.8,125.0 498.1,110.0 501.5,104.0 508.4,95.0 507.0,82.0 496.0,88.0 485.0,85.0"/></clipPath>
<path clip-path="url(#c1)" d="M474.6 53.5L484.8 54.2L482.9 81.7L472.6 81.0L474.6 53.5M472.6 81.0L482.9 81.7L480.9 110.1L470.7 109.3L472.6 81.0M470.7 109.3L480.9 110.1L480.0 122.3L469.8 121.6L470.7 109.3M484.8 54.2L497.8 55.1L496.1 79.1L483.1 78.2L484.8 54.2M483.1 78.2L496.1 79.1L494.7 98.3L481.8 97.4L483.1 78.2M497.8 55.1L508.1 55.9L506.6 77.9L496.2 77.1L497.8 55.1M496.2 77.1L506.6 77.9L505.1 99.1L494.7 98.3L496.2 77.1M481.8 97.4L505.1 99.1L503.4 123.9L480.0 122.3L481.8 97.4M469.8 121.6L490.0 123.0L486.1 178.6L465.9 177.2L469.8 121.6M490.0 123.0L503.4 123.9L501.9 145.1L488.6 144.1L490.0 123.0M488.6 144.1L501.9 145.1L500.8 159.9L487.5 159.0L488.6 144.1M487.5 159.0L500.8 159.9L499.5 179.6L486.1 178.6L487.5 159.0M508.1 55.9L520.4 56.7L519.6 69.0L507.3 68.1L508.1 55.9M507.3 68.1L519.6 69.0L518.0 91.4L505.7 90.5L507.3 68.1M520.4 56.7L527.0 57.2L525.4 80.9L518.8 80.5L520.4 56.7M518.8 80.5L525.4 80.9L524.6 91.8L518.0 91.4L518.8 80.5M505.7 90.5L516.1 91.2L514.8 110.2L504.4 109.5L505.7 90.5M504.4 109.5L514.8 110.2L513.5 129.0L503.0 128.3L504.4 109.5M516.1 91.2L524.6 91.8L523.5 108.5L515.0 107.9L516.1 91.2M515.0 107.9L523.5 108.5L522.0 129.6L513.5 129.0L515.0 107.9M527.0 57.2L539.9 58.1L538.1 82.9L525.3 82.0L527.0 57.2M525.3 82.0L538.1 82.9L537.2 96.8L524.3 95.9L525.3 82.0M539.9 58.1L549.5 58.8L547.9 80.7L538.3 80.1L539.9 58.1M538.3 80.1L547.9 80.7L546.8 97.4L537.2 96.8L538.3 80.1M524.3 95.9L538.8 96.9L537.2 119.2L522.8 118.2L524.3 95.9M522.8 118.2L537.2 119.2L536.4 130.6L522.0 129.6L522.8 118.2M538.8 96.9L546.8 97.4L545.4 117.2L537.4 116.6L538.8 96.9M537.4 116.6L545.4 117.2L544.4 131.2L536.4 130.6L537.4 116.6M503.0 128.3L529.2 130.1L525.6 181.4L499.5 179.6L503.0 128.3M529.2 130.1L536.3 130.6L535.5 141.7L528.4 141.2L529.2 130.1M536.3 130.6L544.4 131.2L543.6 142.2L535.5 141.7L536.3 130.6M528.4 141.2L534.8 141.6L533.2 163.5L526.9 163.0L528.4 141.2M534.8 141.6L543.6 142.2L542.1 164.1L533.2 163.5L534.8 141.6M526.9 163.0L542.1 164.1L540.8 182.5L525.6 181.4L526.9 163.0M549.5 58.8L586.2 61.3L583.4 101.9L546.6 99.3L549.5 58.8M546.6 99.3L583.4 101.9L580.6 142.0L543.8 139.5L546.6 99.3M543.8 139.5L557.7 140.4L556.1 163.8L542.2 162.9L543.8 139.5M542.2 162.9L556.1 163.8L554.7 183.4L540.8 182.5L542.2 162.9M557.7 140.4L565.0 140.9L563.7 159.2L556.5 158.7L557.7 140.4M556.5 158.7L563.7 159.2L562.0 183.9L554.7 183.4L556.5 158.7M565.0 140.9L572.5 141.5L570.5 169.8L563.0 169.3L565.0 140.9M572.5 141.5L580.6 142.0L578.6 170.4L570.5 169.8L572.5 141.5M563.0 169.3L571.7 169.9L570.7 184.5L562.0 183.9L563.0 169.3M571.7 169.9L578.6 170.4L577.6 185.0L570.7 184.5L571.7 169.9M586.2 61.3L598.4 62.2L597.2 79.5L585.0 78.6L586.2 61.3M585.0 78.6L597.2 79.5L595.3 106.0L583.1 105.1L585.0 78.6M598.4 62.2L612.0 63.1L609.9 93.4L596.3 92.5L598.4 62.2M596.3 92.5L609.9 93.4L609.0 106.9L595.3 106.0L596.3 92.5M583.1 105.1L609.0 106.9L607.5 127.9L581.7 126.1L583.1 105.1M581.7 126.1L589.6 126.7L587.7 154.1L579.8 153.6L581.7 126.1M589.6 126.7L607.5 127.9L605.6 155.4L587.7 154.1L589.6 126.7M579.8 153.6L594.0 154.6L591.8 186.0L577.6 185.0L579.8 153.6M594.0 154.6L605.6 155.4L603.4 186.8L591.8 186.0L594.0 154.6M612.0 63.1L642.4 65.3L637.4 136.0L607.1 133.9L612.0 63.1M642.4 65.3L651.1 65.9L649.6 87.5L640.9 86.9L642.4 65.3M640.9 86.9L649.6 87.5L648.2 106.2L639.5 105.6L640.9 86.9M651.1 65.9L664.1 66.8L662.8 84.8L649.8 83.8L651.1 65.9M649.8 83.8L662.8 84.8L661.3 107.1L648.2 106.2L649.8 83.8M639.5 105.6L649.3 106.3L647.1 136.7L637.4 136.0L639.5 105.6M649.3 106.3L661.3 107.1L659.1 137.5L647.1 136.7L649.3 106.3M607.1 133.9L629.0 135.4L625.3 188.4L603.4 186.8L607.1 133.9M629.0 135.4L638.9 136.1L637.3 158.5L627.4 157.8L629.0 135.4M638.9 136.1L644.9 136.5L643.3 159.0L637.3 158.5L638.9 136.1M627.4 157.8L633.4 158.3L631.2 188.8L625.3 188.4L627.4 157.8M633.4 158.3L643.3 159.0L641.2 189.5L631.2 188.8L633.4 158.3M644.9 136.5L659.1 137.5L657.0 168.2L642.7 167.2L644.9 136.5M642.7 167.2L657.0 168.2L655.4 190.5L641.2 189.5L642.7 167.2" fill="none" stroke="#3b3a33" stroke-width="0.6" opacity="0.62"/>
<clipPath id="c2"><polygon points="487.8,76.0 614.0,76.0 632.0,88.0 633.0,110.0 640.0,122.0 647.0,130.0 654.0,133.0 654.0,148.0 667.6,163.0 669.0,174.0 660.7,179.8 667.6,193.5 676.0,198.0 686.0,206.0 691.4,218.3 707.8,222.4 714.7,232.0 709.0,236.0 712.0,250.0 743.5,254.0 742.0,266.4 734.0,272.0 736.6,280.0 758.6,280.0 757.0,293.8 765.5,299.3 771.0,311.6 794.3,321.2 795.6,324.0 782.0,326.9 773.7,331.0 776.4,337.8 782.0,347.4 791.5,350.2 790.2,361.2 782.0,375.0 780.5,379.0 772.3,380.4 782.0,379.0 784.7,385.9 794.3,396.8 788.8,405.0 791.5,412.0 784.7,416.0 782.0,418.8 777.8,416.0 762.7,416.0 755.8,407.8 747.6,401.0 754.5,396.8 751.7,391.4 740.8,394.0 736.6,385.9 743.5,381.7 740.8,374.9 733.9,372.0 722.9,347.4 718.8,344.7 710.6,346.0 701.0,342.0 703.7,333.7 707.8,331.0 702.3,331.0 696.8,326.9 691.4,320.0 686.0,326.7 684.5,318.5 672.0,317.0 674.9,291.0 674.4,288.3 648.4,269.0 648.4,280.0 644.3,303.4 625.0,300.7 614.0,282.8 603.0,277.3 596.2,274.6 593.5,271.8 590.8,265.0 577.0,277.3 582.4,289.7 590.7,296.5 598.0,306.0 596.0,307.0 588.0,297.0 578.0,291.0 556.4,287.0 559.2,259.5 553.7,255.4 559.2,244.4 567.4,239.0 571.5,226.6 563.3,210.0 567.4,208.7 555.0,195.0 555.0,190.8 537.2,178.4 527.6,171.5 523.5,163.3 498.8,153.7 501.5,138.6 505.0,130.0 498.8,125.0 498.1,110.0 501.5,104.0 508.4,95.0 507.0,82.0 496.0,88.0 485.0,85.0"/></clipPath>
<path clip-path="url(#c2)" d="M621.5 153.8L628.2 159.8L616.0 173.3L609.3 167.4L621.5 153.8M628.2 159.8L634.3 165.3L622.1 178.9L616.0 173.3L628.2 159.8M609.3 167.4L613.2 170.9L600.4 185.1L596.5 181.6L609.3 167.4M613.2 170.9L622.1 178.9L609.3 193.1L600.4 185.1L613.2 170.9M634.3 165.3L640.9 171.3L630.6 182.7L624.0 176.8L634.3 165.3M624.0 176.8L630.6 182.7L615.9 199.1L609.3 193.1L624.0 176.8M640.9 171.3L650.1 179.6L634.9 196.4L625.7 188.1L640.9 171.3M625.7 188.1L634.9 196.4L625.1 207.3L615.9 199.1L625.7 188.1M596.5 181.6L602.5 187.0L592.2 198.5L586.2 193.1L596.5 181.6M602.5 187.0L612.2 195.7L601.9 207.1L592.2 198.5L602.5 187.0M586.2 193.1L597.1 202.8L587.1 213.8L576.3 204.1L586.2 193.1M576.3 204.1L587.1 213.8L573.1 229.4L562.3 219.6L576.3 204.1M597.1 202.8L601.9 207.1L589.5 220.8L584.7 216.5L597.1 202.8M584.7 216.5L589.5 220.8L577.9 233.7L573.1 229.4L584.7 216.5M612.2 195.7L619.6 202.4L606.5 216.9L599.1 210.2L612.2 195.7M619.6 202.4L625.1 207.3L612.0 221.9L606.5 216.9L619.6 202.4M599.1 210.2L607.6 217.9L586.5 241.4L577.9 233.7L599.1 210.2M607.6 217.9L612.0 221.9L590.9 245.3L586.5 241.4L607.6 217.9M562.3 219.6L575.0 231.1L553.9 254.5L541.3 243.0L562.3 219.6M575.0 231.1L590.9 245.3L569.8 268.7L553.9 254.5L575.0 231.1M650.1 179.6L658.5 187.1L648.4 198.4L639.9 190.9L650.1 179.6M658.5 187.1L669.5 197.0L659.3 208.3L648.4 198.4L658.5 187.1M639.9 190.9L652.1 201.8L642.0 213.0L629.9 202.0L639.9 190.9M629.9 202.0L642.0 213.0L628.5 228.0L616.3 217.1L629.9 202.0M652.1 201.8L659.3 208.3L635.7 234.5L628.5 228.0L652.1 201.8M616.3 217.1L635.7 234.5L589.2 286.2L569.8 268.7L616.3 217.1M669.5 197.0L678.6 205.2L657.1 229.1L648.0 220.9L669.5 197.0M648.0 220.9L657.1 229.1L630.4 258.7L621.3 250.5L648.0 220.9M678.6 205.2L686.3 212.2L668.4 232.1L660.6 225.1L678.6 205.2M686.3 212.2L694.9 219.9L677.0 239.8L668.4 232.1L686.3 212.2M694.9 219.9L699.1 223.7L681.2 243.6L677.0 239.8L694.9 219.9M660.6 225.1L669.6 233.2L654.2 250.3L645.2 242.2L660.6 225.1M645.2 242.2L654.2 250.3L639.4 266.8L630.4 258.7L645.2 242.2M669.6 233.2L681.2 243.6L670.8 255.1L659.2 244.7L669.6 233.2M659.2 244.7L670.8 255.1L650.9 277.2L639.4 266.8L659.2 244.7M621.3 250.5L627.5 256.0L617.4 267.3L611.2 261.7L621.3 250.5M627.5 256.0L639.6 267.0L629.5 278.2L617.4 267.3L627.5 256.0M611.2 261.7L621.2 270.7L611.6 281.4L601.6 272.4L611.2 261.7M601.6 272.4L611.6 281.4L599.2 295.2L589.2 286.2L601.6 272.4M621.2 270.7L629.5 278.2L618.1 290.9L609.8 283.4L621.2 270.7M609.8 283.4L618.1 290.9L607.5 302.7L599.2 295.2L609.8 283.4M639.6 267.0L650.9 277.2L637.2 292.4L625.9 282.2L639.6 267.0M625.9 282.2L637.2 292.4L618.8 312.8L607.5 302.7L625.9 282.2M699.1 223.7L720.2 242.6L674.0 294.0L652.9 275.0L699.1 223.7M652.9 275.0L660.7 282.1L645.0 299.6L637.1 292.5L652.9 275.0M660.7 282.1L667.5 288.2L651.8 305.7L645.0 299.6L660.7 282.1M637.1 292.5L644.2 298.9L625.9 319.2L618.8 312.8L637.1 292.5M644.2 298.9L651.8 305.7L633.4 326.0L625.9 319.2L644.2 298.9M667.5 288.2L674.0 294.0L663.0 306.2L656.5 300.4L667.5 288.2M656.5 300.4L663.0 306.2L655.7 314.2L649.3 308.4L656.5 300.4M649.3 308.4L655.7 314.2L639.9 331.8L633.4 326.0L649.3 308.4M720.2 242.6L728.8 250.4L718.7 261.7L710.0 253.9L720.2 242.6M710.0 253.9L718.7 261.7L700.7 281.7L692.0 273.9L710.0 253.9M728.8 250.4L735.8 256.7L716.0 278.6L709.1 272.3L728.8 250.4M709.1 272.3L716.0 278.6L707.6 288.0L700.7 281.7L709.1 272.3M735.8 256.7L745.4 265.4L726.0 287.0L716.3 278.3L735.8 256.7M716.3 278.3L726.0 287.0L717.2 296.7L707.6 288.0L716.3 278.3M692.0 273.9L704.5 285.2L693.3 297.7L680.8 286.4L692.0 273.9M680.8 286.4L693.3 297.7L681.7 310.6L669.2 299.3L680.8 286.4M704.5 285.2L710.2 290.4L699.7 302.1L694.0 296.9L704.5 285.2M710.2 290.4L717.2 296.7L706.7 308.4L699.7 302.1L710.2 290.4M694.0 296.9L702.7 304.7L690.4 318.4L681.7 310.6L694.0 296.9M702.7 304.7L706.7 308.4L694.4 322.0L690.4 318.4L702.7 304.7M745.4 265.4L751.2 270.6L735.6 288.0L729.8 282.7L745.4 265.4M729.8 282.7L735.6 288.0L725.7 298.9L719.9 293.7L729.8 282.7M751.2 270.6L762.7 281.0L751.4 293.6L739.9 283.2L751.2 270.6M739.9 283.2L751.4 293.6L737.3 309.3L725.7 298.9L739.9 283.2M719.9 293.7L730.5 303.2L716.1 319.2L705.5 309.7L719.9 293.7M705.5 309.7L716.1 319.2L705.0 331.5L694.4 322.0L705.5 309.7M730.5 303.2L737.3 309.3L725.9 321.9L719.1 315.8L730.5 303.2M719.1 315.8L725.9 321.9L711.7 337.6L705.0 331.5L719.1 315.8M669.2 299.3L679.8 308.9L667.6 322.5L656.9 312.9L669.2 299.3M656.9 312.9L667.6 322.5L650.6 341.4L639.9 331.8L656.9 312.9M679.8 308.9L686.7 315.1L670.3 333.3L663.4 327.1L679.8 308.9M663.4 327.1L670.3 333.3L657.4 347.6L650.6 341.4L663.4 327.1M686.7 315.1L694.3 322.0L682.6 335.0L675.0 328.1L686.7 315.1M675.0 328.1L682.6 335.0L665.1 354.5L657.4 347.6L675.0 328.1M694.3 322.0L702.8 329.6L686.4 347.8L678.0 340.2L694.3 322.0M678.0 340.2L686.4 347.8L673.5 362.1L665.1 354.5L678.0 340.2M702.8 329.6L711.7 337.6L698.9 351.9L689.9 343.9L702.8 329.6M689.9 343.9L698.9 351.9L682.5 370.2L673.5 362.1L689.9 343.9" fill="none" stroke="#3b3a33" stroke-width="0.6" opacity="0.62"/>
<clipPath id="c3"><polygon points="487.8,76.0 614.0,76.0 632.0,88.0 633.0,110.0 640.0,122.0 647.0,130.0 654.0,133.0 654.0,148.0 667.6,163.0 669.0,174.0 660.7,179.8 667.6,193.5 676.0,198.0 686.0,206.0 691.4,218.3 707.8,222.4 714.7,232.0 709.0,236.0 712.0,250.0 743.5,254.0 742.0,266.4 734.0,272.0 736.6,280.0 758.6,280.0 757.0,293.8 765.5,299.3 771.0,311.6 794.3,321.2 795.6,324.0 782.0,326.9 773.7,331.0 776.4,337.8 782.0,347.4 791.5,350.2 790.2,361.2 782.0,375.0 780.5,379.0 772.3,380.4 782.0,379.0 784.7,385.9 794.3,396.8 788.8,405.0 791.5,412.0 784.7,416.0 782.0,418.8 777.8,416.0 762.7,416.0 755.8,407.8 747.6,401.0 754.5,396.8 751.7,391.4 740.8,394.0 736.6,385.9 743.5,381.7 740.8,374.9 733.9,372.0 722.9,347.4 718.8,344.7 710.6,346.0 701.0,342.0 703.7,333.7 707.8,331.0 702.3,331.0 696.8,326.9 691.4,320.0 686.0,326.7 684.5,318.5 672.0,317.0 674.9,291.0 674.4,288.3 648.4,269.0 648.4,280.0 644.3,303.4 625.0,300.7 614.0,282.8 603.0,277.3 596.2,274.6 593.5,271.8 590.8,265.0 577.0,277.3 582.4,289.7 590.7,296.5 598.0,306.0 596.0,307.0 588.0,297.0 578.0,291.0 556.4,287.0 559.2,259.5 553.7,255.4 559.2,244.4 567.4,239.0 571.5,226.6 563.3,210.0 567.4,208.7 555.0,195.0 555.0,190.8 537.2,178.4 527.6,171.5 523.5,163.3 498.8,153.7 501.5,138.6 505.0,130.0 498.8,125.0 498.1,110.0 501.5,104.0 508.4,95.0 507.0,82.0 496.0,88.0 485.0,85.0"/></clipPath>
<path clip-path="url(#c3)" d="M681.9 310.7L715.9 315.5L714.3 327.1L680.3 322.3L681.9 310.7M715.9 315.5L730.5 317.5L728.9 329.2L714.3 327.1L715.9 315.5M680.3 322.3L703.7 325.6L701.9 338.5L678.5 335.2L680.3 322.3M703.7 325.6L728.9 329.2L727.1 342.1L701.9 338.5L703.7 325.6M678.5 335.2L696.8 337.8L695.4 348.1L677.1 345.5L678.5 335.2M696.8 337.8L727.1 342.1L725.6 352.3L695.4 348.1L696.8 337.8M730.5 317.5L758.3 321.4L756.6 333.1L728.9 329.2L730.5 317.5M758.3 321.4L787.1 325.5L785.5 337.2L756.6 333.1L758.3 321.4M787.1 325.5L820.6 330.2L818.9 341.9L785.5 337.2L787.1 325.5M728.9 329.2L769.6 334.9L768.3 344.3L727.6 338.5L728.9 329.2M727.6 338.5L768.3 344.3L766.3 358.1L725.6 352.3L727.6 338.5M769.6 334.9L791.8 338.1L790.8 345.6L768.5 342.5L769.6 334.9M791.8 338.1L818.9 341.9L817.9 349.4L790.8 345.6L791.8 338.1M768.5 342.5L790.0 345.5L788.9 353.3L767.4 350.2L768.5 342.5M767.4 350.2L788.9 353.3L787.8 361.1L766.3 358.1L767.4 350.2M790.0 345.5L817.9 349.4L816.4 359.7L788.6 355.8L790.0 345.5M788.6 355.8L816.4 359.7L815.7 365.0L787.8 361.1L788.6 355.8M677.1 345.5L712.6 350.5L711.1 360.8L675.6 355.8L677.1 345.5M675.6 355.8L711.1 360.8L709.8 369.9L674.3 364.9L675.6 355.8M712.6 350.5L750.8 355.9L749.5 364.5L711.4 359.1L712.6 350.5M711.4 359.1L749.5 364.5L748.0 375.3L709.8 369.9L711.4 359.1M750.8 355.9L771.1 358.7L770.1 365.6L749.8 362.7L750.8 355.9M749.8 362.7L770.1 365.6L768.4 378.1L748.0 375.3L749.8 362.7M771.1 358.7L815.7 365.0L814.8 371.6L770.2 365.3L771.1 358.7M770.2 365.3L814.8 371.6L813.0 384.4L768.4 378.1L770.2 365.3M674.3 364.9L704.9 369.2L703.3 380.6L672.7 376.3L674.3 364.9M672.7 376.3L703.3 380.6L701.7 391.4L671.2 387.2L672.7 376.3M704.9 369.2L730.0 372.7L729.0 380.0L703.8 376.5L704.9 369.2M730.0 372.7L754.9 376.2L753.8 383.5L729.0 380.0L730.0 372.7M703.8 376.5L723.2 379.2L721.1 394.2L701.7 391.4L703.8 376.5M723.2 379.2L753.8 383.5L751.7 398.5L721.1 394.2L723.2 379.2M671.2 387.2L695.7 390.6L694.0 403.3L669.4 399.8L671.2 387.2M695.7 390.6L718.5 393.8L716.7 406.5L694.0 403.3L695.7 390.6M718.5 393.8L751.7 398.5L749.9 411.1L716.7 406.5L718.5 393.8M754.9 376.2L793.0 381.6L792.0 388.8L753.8 383.4L754.9 376.2M753.8 383.4L792.0 388.8L790.8 397.3L752.6 392.0L753.8 383.4M793.0 381.6L813.0 384.4L811.7 393.3L791.8 390.5L793.0 381.6M791.8 390.5L811.7 393.3L810.8 400.1L790.8 397.3L791.8 390.5M752.6 392.0L774.8 395.1L772.1 414.2L749.9 411.1L752.6 392.0M774.8 395.1L810.8 400.1L809.1 411.7L773.1 406.7L774.8 395.1M773.1 406.7L809.1 411.7L808.1 419.3L772.1 414.2L773.1 406.7" fill="none" stroke="#3b3a33" stroke-width="0.6" opacity="0.62"/>
<clipPath id="c4"><polygon points="498.8,152.3 527.6,171.5 513.9,177.0 513.9,193.5 496.1,201.7 464.5,201.7 464.5,193.5 461.7,160.6 475.5,152.3"/></clipPath>
<path clip-path="url(#c4)" d="M452.6 132.8L465.6 135.1L462.4 153.5L449.4 151.3L452.6 132.8M449.4 151.3L462.4 153.5L460.7 163.1L447.7 160.8L449.4 151.3M465.6 135.1L481.3 137.8L479.7 146.7L464.1 143.9L465.6 135.1M464.1 143.9L479.7 146.7L476.4 165.8L460.7 163.1L464.1 143.9M481.3 137.8L495.6 140.4L492.8 156.7L478.4 154.1L481.3 137.8M478.4 154.1L492.8 156.7L490.7 168.4L476.4 165.8L478.4 154.1M447.7 160.8L464.7 163.8L462.0 178.8L445.0 175.9L447.7 160.8M445.0 175.9L462.0 178.8L459.4 193.8L442.4 190.8L445.0 175.9M464.7 163.8L490.7 168.4L487.9 184.4L461.9 179.9L464.7 163.8M461.9 179.9L487.9 184.4L485.4 198.3L459.4 193.8L461.9 179.9M442.4 190.8L461.9 194.2L458.2 215.0L438.7 211.6L442.4 190.8M461.9 194.2L485.4 198.3L481.7 219.2L458.2 215.0L461.9 194.2M495.6 140.4L521.6 145.0L519.4 157.5L493.4 153.0L495.6 140.4M493.4 153.0L519.4 157.5L516.9 171.8L490.9 167.2L493.4 153.0M521.6 145.0L541.3 148.4L539.3 159.3L519.7 155.9L521.6 145.0M519.7 155.9L539.3 159.3L536.5 175.3L516.9 171.8L519.7 155.9M490.9 167.2L508.2 170.3L504.5 191.7L487.1 188.6L490.9 167.2M508.2 170.3L536.5 175.3L532.8 196.7L504.5 191.7L508.2 170.3M487.1 188.6L507.7 192.3L506.1 201.7L485.5 198.1L487.1 188.6M485.5 198.1L506.1 201.7L502.3 222.8L481.7 219.2L485.5 198.1M507.7 192.3L532.8 196.7L529.2 216.9L504.2 212.5L507.7 192.3M504.2 212.5L529.2 216.9L527.4 227.2L502.3 222.8L504.2 212.5" fill="none" stroke="#3b3a33" stroke-width="0.6" opacity="0.62"/>
<clipPath id="c5"><polygon points="464.5,195.0 514.0,195.0 512.5,197.7 496.0,199.0 490.6,206.7 479.6,205.3 476.8,210.0 471.4,222.4 463.0,232.0 445.3,233.4 444.0,240.3 461.7,234.0 460.4,237.5 452.0,244.4 450.8,250.0 448.0,252.6 452.0,279.4 439.8,279.4 437.0,266.4 433.0,259.5 433.0,255.4 419.2,256.7 419.2,254.0 433.0,252.6 434.3,247.0 441.0,243.0 442.5,234.8 445.3,230.7 452.0,211.5 453.5,201.9 460.4,197.7"/></clipPath>
<path clip-path="url(#c5)" d="M393.5 209.9L419.3 195.0L435.7 223.4L409.9 238.3L393.5 209.9M409.9 238.3L435.7 223.4L448.5 245.6L422.7 260.5L409.9 238.3M419.3 195.0L434.7 186.1L449.6 211.8L434.1 220.7L419.3 195.0M434.1 220.7L449.6 211.8L463.9 236.7L448.5 245.6L434.1 220.7M422.7 260.5L439.2 251.0L465.0 295.6L448.5 305.1L422.7 260.5M439.2 251.0L463.9 236.7L480.5 265.5L455.8 279.7L439.2 251.0M455.8 279.7L480.5 265.5L489.7 281.3L465.0 295.6L455.8 279.7M434.7 186.1L455.7 174.0L470.0 198.8L449.0 210.8L434.7 186.1M449.0 210.8L470.0 198.8L480.6 217.1L459.6 229.2L449.0 210.8M455.7 174.0L471.5 164.9L480.3 180.1L464.5 189.2L455.7 174.0M464.5 189.2L480.3 180.1L496.4 208.0L480.6 217.1L464.5 189.2M459.6 229.2L496.4 208.0L517.2 244.1L480.5 265.3L459.6 229.2M480.5 265.3L491.6 258.9L500.8 274.9L489.7 281.3L480.5 265.3M491.6 258.9L517.2 244.1L526.5 260.1L500.8 274.9L491.6 258.9" fill="none" stroke="#3b3a33" stroke-width="0.6" opacity="0.62"/>
<clipPath id="c6"><polygon points="325.5,92.6 335.8,86.0 344.3,77.5 352.8,76.1 364.2,76.1 362.3,96.4 366.0,98.3 362.3,104.0 357.5,111.5 352.8,113.4 344.3,108.7 331.1,111.5 330.2,101.1 325.5,100.2"/></clipPath>
<path clip-path="url(#c6)" d="M323.7 66.8L351.8 70.7L348.4 95.0L320.3 91.0L323.7 66.8M351.8 70.7L373.2 73.7L369.8 98.0L348.4 95.0L351.8 70.7M320.3 91.0L335.4 93.1L331.8 118.4L316.8 116.3L320.3 91.0M335.4 93.1L349.5 95.1L345.9 120.4L331.8 118.4L335.4 93.1M349.5 95.1L369.8 98.0L366.3 123.2L345.9 120.4L349.5 95.1" fill="none" stroke="#3b3a33" stroke-width="0.6" opacity="0.62"/>
<clipPath id="c7"><polygon points="365.1,76.1 396.2,76.1 395.3,87.0 398.1,88.9 390.6,98.3 387.7,102.1 384.9,105.8 378.3,104.0 379.2,120.9 367.9,121.9 369.8,111.5 366.0,101.1 367.9,96.4 364.2,95.5"/></clipPath>
<path clip-path="url(#c7)" d="M364.7 66.4L387.5 68.4L385.4 92.5L362.6 90.5L364.7 66.4M387.5 68.4L404.5 69.9L402.4 94.0L385.4 92.5L387.5 68.4M362.6 90.5L377.5 91.8L374.4 127.4L359.5 126.1L362.6 90.5M377.5 91.8L402.4 94.0L399.3 129.6L374.4 127.4L377.5 91.8" fill="none" stroke="#3b3a33" stroke-width="0.6" opacity="0.62"/>
<clipPath id="c8"><polygon points="791.2,547.2 804.0,547.2 805.8,560.0 811.0,560.0 812.7,553.2 831.5,553.2 835.0,558.4 864.0,560.0 862.4,575.5 853.8,577.2 852.0,604.9 831.5,604.9 828.0,594.4 824.7,589.2 807.5,582.4 802.4,585.8 790.4,591.0 788.6,580.7 781.8,575.5 780.0,563.5 790.4,561.8"/></clipPath>
<path clip-path="url(#c8)" d="M768.7 530.4L784.0 531.7L781.7 558.2L766.4 556.9L768.7 530.4M766.4 556.9L781.7 558.2L780.1 576.4L764.8 575.1L766.4 556.9M784.0 531.7L806.3 533.6L804.6 552.5L782.4 550.5L784.0 531.7M782.4 550.5L804.6 552.5L802.3 578.3L780.1 576.4L782.4 550.5M764.8 575.1L782.0 576.6L780.9 588.7L763.7 587.2L764.8 575.1M763.7 587.2L780.9 588.7L778.9 611.6L761.7 610.1L763.7 587.2M782.0 576.6L802.3 578.3L800.3 601.5L780.0 599.7L782.0 576.6M780.0 599.7L800.3 601.5L799.3 613.3L778.9 611.6L780.0 599.7M806.3 533.6L816.9 534.6L814.9 557.5L804.2 556.6L806.3 533.6M816.9 534.6L835.4 536.2L833.4 559.1L814.9 557.5L816.9 534.6M804.2 556.6L814.4 557.5L812.6 578.6L802.4 577.7L804.2 556.6M814.4 557.5L833.4 559.1L831.5 580.2L812.6 578.6L814.4 557.5M802.4 577.7L812.1 578.5L809.9 603.2L800.2 602.3L802.4 577.7M800.2 602.3L809.9 603.2L809.0 614.2L799.3 613.3L800.2 602.3M812.1 578.5L831.5 580.2L829.3 605.1L809.9 603.4L812.1 578.5M809.9 603.4L829.3 605.1L828.4 615.9L809.0 614.2L809.9 603.4M835.4 536.2L844.5 537.0L842.5 560.2L833.3 559.4L835.4 536.2M844.5 537.0L860.0 538.3L858.0 561.5L842.5 560.2L844.5 537.0M833.3 559.4L849.4 560.8L847.6 580.9L831.6 579.5L833.3 559.4M849.4 560.8L858.0 561.5L856.2 581.6L847.6 580.9L849.4 560.8M860.0 538.3L878.3 539.9L876.8 556.3L858.6 554.7L860.0 538.3M858.6 554.7L876.8 556.3L874.5 583.2L856.2 581.6L858.6 554.7M831.6 579.5L848.2 580.9L846.6 599.1L830.0 597.7L831.6 579.5M830.0 597.7L846.6 599.1L845.0 617.3L828.4 615.9L830.0 597.7M848.2 580.9L864.7 582.4L861.5 618.8L845.0 617.3L848.2 580.9M864.7 582.4L874.5 583.2L872.6 604.9L862.8 604.1L864.7 582.4M862.8 604.1L872.6 604.9L871.3 619.6L861.5 618.8L862.8 604.1" fill="none" stroke="#3b3a33" stroke-width="0.6" opacity="0.62"/>
<polygon points="589.4,241.7 597.6,240.3 605.8,241.7 609.9,247.1 608.6,258.1 619.6,259.5 620.9,269.1 594.9,267.7 590.7,263.6 578.4,277.3 581.1,282.8 589.4,293.8 597.6,303.4 594.9,304.8 583.9,291.1 577.0,278.7 588.0,263.6 589.4,255.4 592.1,249.9" fill="#a9d8a5" />
<circle cx="570" cy="256.5" r="5.3" fill="#a9d8a5"/>
<polygon points="673.5,249.9 703.7,249.9 714.7,271.8 692.7,271.8 685.9,271.8 673.5,256.7" fill="#d3dcc0" stroke="#3b3a33" stroke-width="0.5" stroke-opacity=".5"/>
<polygon points="694.1,271.8 714.7,271.8 718.8,281.4 692.7,282.8" fill="#d3dcc0" stroke="#3b3a33" stroke-width="0.5" stroke-opacity=".5"/>
<polygon points="685.9,271.8 692.7,271.8 694.1,289.7 685.9,291.1" fill="#dff0d9" />
<polygon points="545.5,130.4 552.3,134.5 559.2,146.8 555.1,157.8 548.2,152.3" fill="#d3dcc0" />
<polygon points="496.1,174.3 527.6,171.5 526.2,185.3 496.1,183.9" fill="#bdbd9c" />
<polyline points="237.0,77.0 251.0,113.0 245.0,145.0 236.0,166.0 251.0,183.0 279.0,194.0 302.0,227.0 321.0,245.0 330.0,252.0 349.0,253.0 340.0,270.0 358.5,287.0 355.0,296.6 328.0,295.0 330.0,315.5 335.0,330.0 344.5,339.4 354.0,373.4 369.0,386.6 389.8,403.6 397.4,420.6 399.2,435.7 408.7,458.3 420.0,467.7 421.9,481.0 429.4,492.3 454.0,486.6 461.5,496.0 459.6,509.0 470.0,540.0 478.0,575.0 490.0,605.0" fill="none" stroke="#93d0e6" stroke-width="1.0" stroke-linejoin="round" stroke-linecap="round" opacity="1"/>
<polyline points="349.1,253.2 377.4,247.5 405.7,258.9 434.0,247.5 440.0,240.0" fill="none" stroke="#9fd7f7" stroke-width="1.3" stroke-linejoin="round" stroke-linecap="round" opacity="1"/>
<polyline points="400.0,260.9 412.3,252.6 417.8,255.4 432.9,249.9 442.5,234.8 463.1,229.3 471.4,222.4 476.8,210.1 479.6,200.5 482.3,195.0" fill="none" stroke="#9fd7f7" stroke-width="1.2" stroke-linejoin="round" stroke-linecap="round" opacity="1"/>
<polyline points="501.5,137.2 516.6,129.0 537.2,124.9 550.9,131.7 564.7,149.6 571.5,159.2 582.5,160.6 597.6,156.4 605.8,157.8 611.3,149.6 626.4,134.5 636.0,129.0 641.5,138.6 638.8,152.3 651.1,166.1 667.6,186.6 674.4,201.7" fill="none" stroke="#e6ebe0" stroke-width="1.8" stroke-linejoin="round" stroke-linecap="round" opacity=".8"/>
<polyline points="501.5,137.2 516.6,129.0 537.2,124.9 550.9,131.7 564.7,149.6 571.5,159.2 582.5,160.6 597.6,156.4 605.8,157.8 611.3,149.6 626.4,134.5 636.0,129.0 641.5,138.6 638.8,152.3 651.1,166.1 667.6,186.6 674.4,201.7" fill="none" stroke="#a9d9ee" stroke-width="0.8" stroke-linejoin="round" stroke-linecap="round" opacity="1"/>
<polyline points="672.1,195.0 679.0,206.0 688.6,218.3 690.0,226.6 684.5,234.8 680.4,240.3 684.5,243.0 696.8,240.3 706.4,234.8 710.6,236.2 711.9,249.9 716.1,260.9 724.3,274.6 736.6,284.2 746.2,296.5 757.2,310.3 773.7,318.5 779.2,326.7" fill="none" stroke="#e6ebe0" stroke-width="1.8" stroke-linejoin="round" stroke-linecap="round" opacity=".8"/>
<polyline points="672.1,195.0 679.0,206.0 688.6,218.3 690.0,226.6 684.5,234.8 680.4,240.3 684.5,243.0 696.8,240.3 706.4,234.8 710.6,236.2 711.9,249.9 716.1,260.9 724.3,274.6 736.6,284.2 746.2,296.5 757.2,310.3 773.7,318.5 779.2,326.7" fill="none" stroke="#a9d9ee" stroke-width="0.8" stroke-linejoin="round" stroke-linecap="round" opacity="1"/>
<polyline points="777.8,320.0 779.2,328.2 783.3,346.1 792.9,347.4 792.9,358.4 784.7,366.7 784.7,374.9 791.5,384.5 798.4,394.1" fill="none" stroke="#f1efee" stroke-width="3.2" stroke-linejoin="round" stroke-linecap="round" opacity=".85"/>
<polyline points="777.8,320.0 779.2,328.2 783.3,346.1 792.9,347.4 792.9,358.4 784.7,366.7 784.7,374.9 791.5,384.5 798.4,394.1 809.4,405.1" fill="none" stroke="#8fd5fb" stroke-width="1.3" stroke-linejoin="round" stroke-linecap="round" opacity="1"/>
<polyline points="809.4,405.1 817.6,413.3 819.0,421.5 805.2,429.8 803.9,439.4 812.1,442.1 825.8,438.0 839.6,428.4 850.5,424.3 864.3,429.8 871.1,439.4 872.5,451.7" fill="none" stroke="#8fd5fb" stroke-width="3.0" stroke-linejoin="round" stroke-linecap="round" opacity="1"/>
<polyline points="868.4,440.0 871.8,465.7 881.3,474.3" fill="none" stroke="#8fd5fb" stroke-width="5.5" stroke-linejoin="round" stroke-linecap="round" opacity="1"/>
<polyline points="881.3,474.3 879.6,479.5 874.4,496.6 860.7,508.6" fill="none" stroke="#8fd5fb" stroke-width="5.5" stroke-linejoin="round" stroke-linecap="round" opacity="1"/>
<polyline points="860.7,508.6 853.8,522.3 857.3,536.1 874.4,549.8" fill="none" stroke="#8fd5fb" stroke-width="4.2" stroke-linejoin="round" stroke-linecap="round" opacity="1"/>
<polyline points="874.4,549.8 884.7,560.1 874.4,573.8 876.1,585.8 888.1,594.4 896.7,604.7" fill="none" stroke="#8fd5fb" stroke-width="2.6" stroke-linejoin="round" stroke-linecap="round" opacity="1"/>
<polygon points="871.0,464.0 888.1,470.0 913.9,457.2 917.3,450.3 922.4,460.6 900.1,472.6 881.3,476.0 874.4,474.3" fill="#91d7fc" />
<polyline points="812.7,457.2 814.4,470.9 824.7,472.6 824.7,477.7" fill="none" stroke="#9fd7f7" stroke-width="0.8" stroke-linejoin="round" stroke-linecap="round" opacity="1"/>
<polyline points="845.2,474.3 847.0,482.9 855.5,484.6 857.3,476.0 864.1,476.0 865.8,486.3 872.7,484.6" fill="none" stroke="#9fd7f7" stroke-width="0.9" stroke-linejoin="round" stroke-linecap="round" opacity="1"/>
<polyline points="8.0,140.0 23.0,132.0 36.0,160.0 47.0,174.0 60.0,173.0 62.0,196.0 75.0,200.0 70.0,227.0 55.0,234.0 48.0,246.0 30.0,262.0 18.0,266.0 7.0,275.0" fill="none" stroke="#b5bdd8" stroke-width="0.9" stroke-linejoin="round" stroke-linecap="round" />
<polyline points="7.3,263.3 15.6,264.3 23.9,260.1 26.0,256.0 39.5,248.7 49.9,236.2 56.1,237.3 58.2,235.2 70.7,234.2 70.7,230.0" fill="none" stroke="#b5bdd8" stroke-width="0.9" stroke-linejoin="round" stroke-linecap="round" />
<polyline points="70.7,234.2 88.4,233.1 96.7,230.0" fill="none" stroke="#b5bdd8" stroke-width="0.9" stroke-linejoin="round" stroke-linecap="round" />
<polyline points="115.4,230.0 115.4,236.2 122.7,241.4 124.7,247.7 121.6,254.9 110.2,258.1 102.9,267.4 106.0,274.7 110.2,282.0 112.3,291.3 119.5,301.7 117.5,315.2 115.4,326.7 111.2,328.8" fill="none" stroke="#a9b4d0" stroke-width="1.2" stroke-linejoin="round" stroke-linecap="round" />
<polyline points="104.0,268.0 117.0,293.0 119.0,315.5 113.0,328.0 128.0,334.0 132.0,342.0 145.0,338.0 147.0,329.0 160.0,326.0 170.0,329.0 189.0,329.0 200.0,346.0 204.0,368.0 215.0,387.0 209.0,419.0 208.0,422.5 199.6,430.8 203.7,447.4 208.0,451.6" fill="none" stroke="#a9b4d0" stroke-width="1.2" stroke-linejoin="round" stroke-linecap="round" />
<polyline points="290.6,274.0 294.0,287.0 289.0,302.0 283.0,315.5 278.5,330.0 274.7,341.3 276.6,364.0 282.3,379.0 286.0,392.3 280.4,405.5 278.5,418.7 286.0,428.0 286.0,439.4 280.4,445.0 269.0,447.0 259.6,435.7 254.0,433.8 248.3,443.2 238.9,443.2 229.4,435.7 224.5,447.4 208.0,451.6 187.0,462.0 172.6,478.6 168.4,495.0 158.0,497.0 153.8,489.0 143.5,484.8 129.0,489.0 120.6,478.6 108.0,470.0 99.8,457.8 83.0,447.4 70.7,445.0" fill="none" stroke="#a9b4d0" stroke-width="1.4" stroke-linejoin="round" stroke-linecap="round" />
<polyline points="290.6,274.0 296.0,268.0 310.0,262.0 330.0,256.0 350.0,250.0 372.0,262.0 390.0,258.0 410.0,250.0 425.0,240.0 440.0,232.0 452.0,212.0 460.0,190.0 462.0,170.0 462.0,135.9" fill="none" stroke="#a9b4d0" stroke-width="1.3" stroke-linejoin="round" stroke-linecap="round" />
<polyline points="133.0,507.7 122.7,514.0 120.6,528.5 104.0,541.0 89.4,555.5 83.0,576.0 81.0,597.0 84.0,605.0" fill="none" stroke="#a9b4d0" stroke-width="1.3" stroke-linejoin="round" stroke-linecap="round" />
<polyline points="89.4,561.8 129.0,580.5 149.7,574.0 172.6,572.0 199.6,578.4 218.0,576.0" fill="none" stroke="#a9b4d0" stroke-width="1.1" stroke-linejoin="round" stroke-linecap="round" />
<polyline points="7.0,580.0 22.0,578.0 40.0,590.0 60.0,596.0 81.0,597.0" fill="none" stroke="#a9b4d0" stroke-width="1.1" stroke-linejoin="round" stroke-linecap="round" />
<polyline points="459.0,76.0 464.5,87.8 462.4,111.0 461.7,135.9 468.6,148.0 482.3,151.0 498.8,153.7 523.5,163.3 537.2,178.4 555.0,190.8 562.0,201.7 580.0,218.0 600.0,236.0 625.0,258.0 650.0,277.0 680.0,295.0 700.0,312.0 718.0,330.0 735.0,355.0 750.0,385.0 765.0,405.0 780.0,425.0 797.2,457.0 807.5,483.0 812.7,508.6 811.0,536.0 805.8,560.0 807.5,605.0" fill="none" stroke="#a3a9c9" stroke-width="1.5" stroke-linejoin="round" stroke-linecap="round" />
<polyline points="883.0,542.9 886.4,563.5 888.1,585.8 898.4,604.7" fill="none" stroke="#c2c6d8" stroke-width="1.0" stroke-linejoin="round" stroke-linecap="round" />
<polyline points="498.1,127.0 507.0,120.0 509.8,127.6 516.0,138.6 515.3,149.6 520.8,156.5 527.6,158.5 544.0,159.9 571.5,171.5 585.2,171.5 615.4,167.4 633.3,179.8 647.4,195.0 658.4,206.0 666.7,222.4 669.4,237.5 674.9,245.8 688.6,249.2 703.7,249.2 710.6,260.9 716.0,277.3 724.3,287.0 729.8,293.8 729.8,300.7 720.2,304.8 718.1,311.6 718.8,328.0 723.0,337.8 728.4,341.3 747.6,344.7 748.3,353.0 746.2,359.8 743.5,368.0 742.8,374.9 746.2,381.7 757.2,392.7 768.2,405.0 776.4,417.4 784.7,436.6 797.2,462.3 809.2,489.7 816.0,510.3 819.5,525.8 821.2,541.2" fill="none" stroke="#1b7a9f" stroke-width="4.6" stroke-linejoin="round" stroke-linecap="round" stroke-linecap="butt" stroke-linejoin="round"/>
<filter id="halo" x="-5%" y="-30%" width="110%" height="160%" color-interpolation-filters="sRGB"><feMorphology in="SourceAlpha" operator="dilate" radius="0.9" result="d"/><feGaussianBlur in="d" stdDeviation="0.35" result="db"/><feFlood flood-color="#fff" flood-opacity=".95"/><feComposite in2="db" operator="in" result="h"/><feMerge><feMergeNode in="h"/><feMergeNode in="SourceGraphic"/></feMerge></filter>
<text x="240.0" y="169.4" font-size="11" letter-spacing="0.318" fill="#3c8f3a" stroke="#3c8f3a" stroke-width="0.5" opacity="1" filter="url(#halo)">Little Mulgrave</text>
<text x="243.8" y="183.2" font-size="11" letter-spacing="0.204" fill="#3c8f3a" stroke="#3c8f3a" stroke-width="0.5" opacity="1" filter="url(#halo)">National Park</text>
<text x="9.4" y="221.5" font-size="11" letter-spacing="0.188" fill="#3c8f3a" stroke="#3c8f3a" stroke-width="0.5" opacity="1" filter="url(#halo)">National Park</text>
<text x="275.5" y="207.2" font-size="10" letter-spacing="1.442" fill="#5b5c7c" font-weight="700" stroke="#fff" stroke-width="1.8" stroke-linejoin="round" paint-order="stroke" opacity="1">LITTLE</text>
<text x="263.2" y="220.0" font-size="10" letter-spacing="1.231" fill="#5b5c7c" font-weight="700" stroke="#fff" stroke-width="1.8" stroke-linejoin="round" paint-order="stroke" opacity="1">MULGRAVE</text>
<text x="339.6" y="284.3" font-size="10" letter-spacing="0.938" fill="#5b5c7c" font-weight="700" stroke="#fff" stroke-width="1.8" stroke-linejoin="round" paint-order="stroke" opacity="1">GOLDSBOROUGH</text>
<text x="6.6" y="307.5" font-size="10.6" letter-spacing="-0.081" fill="#3c8f3a" font-weight="700" stroke="#fff" stroke-width="1.8" stroke-linejoin="round" paint-order="stroke" opacity="1">bulla State Forest 1</text>
<text x="6.6" y="402.6" font-size="10.6" letter-spacing="0.323" fill="#4aa0dc" font-style="italic" opacity="1">naroo</text>
<text x="45.7" y="443.7" font-size="10" letter-spacing="1.356" fill="#5b5c7c" font-weight="700" stroke="#fff" stroke-width="1.8" stroke-linejoin="round" paint-order="stroke" opacity="1">BARRINE</text>
<text x="135.0" y="507.7" font-size="10" letter-spacing="1.155" fill="#5b5c7c" font-weight="700" stroke="#fff" stroke-width="1.8" stroke-linejoin="round" paint-order="stroke" opacity="1">LAKE</text>
<text x="123.7" y="520.6" font-size="10" letter-spacing="1.340" fill="#5b5c7c" font-weight="700" stroke="#fff" stroke-width="1.8" stroke-linejoin="round" paint-order="stroke" opacity="1">BARRINE</text>
<text x="328.0" y="542.0" font-size="10" letter-spacing="0.958" fill="#5b5c7c" font-weight="700" stroke="#fff" stroke-width="1.8" stroke-linejoin="round" paint-order="stroke" opacity="1">GADGARRA</text>
<text x="7.9" y="573.4" font-size="10.6" letter-spacing="0.097" fill="#3a3a3a" stroke="#fff" stroke-width="1.8" stroke-linejoin="round" paint-order="stroke" opacity="1">gaburra</text>
<text x="724.6" y="262.9" font-size="11" letter-spacing="-0.000" fill="#4a9a48" stroke="#4a9a48" stroke-width="0.45" opacity="0.92" filter="url(#halo)">Malbon Thompson</text>
<text x="718.8" y="277.3" font-size="11" letter-spacing="0.038" fill="#4a9a48" stroke="#4a9a48" stroke-width="0.45" opacity="0.92" filter="url(#halo)">Range National Park</text>
<text x="701.0" y="358.7" font-size="10" letter-spacing="1.405" fill="#5b5c7c" font-weight="700" stroke="#fff" stroke-width="1.8" stroke-linejoin="round" paint-order="stroke" opacity="1">FISHERY</text>
<text x="707.8" y="371.5" font-size="10" letter-spacing="1.357" fill="#5b5c7c" font-weight="700" stroke="#fff" stroke-width="1.8" stroke-linejoin="round" paint-order="stroke" opacity="1">FALLS</text>
<text x="771.0" y="455.0" font-size="10" letter-spacing="0.775" fill="#5b5c7c" font-weight="700" stroke="#fff" stroke-width="1.8" stroke-linejoin="round" paint-order="stroke" opacity="1">DEERAL</text>
<text x="895.3" y="470.0" font-size="10" letter-spacing="1.171" fill="#5b5c7c" font-weight="700" stroke="#fff" stroke-width="1.8" stroke-linejoin="round" paint-order="stroke" opacity="1">RUSSELL</text>
<text x="902.7" y="482.4" font-size="10" letter-spacing="0.971" fill="#5b5c7c" font-weight="700" stroke="#fff" stroke-width="1.8" stroke-linejoin="round" paint-order="stroke" opacity="1">HEADS</text>
<text x="641.0" y="496.3" font-size="9.4" letter-spacing="0.566" fill="#8290b4" opacity="1">North Peak</text>
<path d="M662.2 482.4 666.6 474.8 671 482.4z" fill="#8f9cc0" stroke="#fff" stroke-width=".6"/><path d="M665 477.7 666.6 474.8 668.2 477.7 667.2 477.2 666.6 478 666 477.2z" fill="#fff"/>
<g transform="translate(278,149.2)"><circle r="8.5" fill="#fff"/><circle r="7.6" fill="#2f9e24"/><path d="M0-4.6c2.9 0 4.9 1.7 4.9 3.5 0 1-.9 1.6-2 1.6H.9v2.4c0 .9.5 1.3 1.4 1.5v.5h-4.6v-.5c.9-.2 1.4-.6 1.4-1.5V.5h-2c-1.100 0-2-.6-2-1.600 0-1.800 2-3.500 4.900-3.500z" fill="#fff"/></g>
<g transform="translate(19.8,201.1)"><circle r="8.5" fill="#fff"/><circle r="7.6" fill="#2f9e24"/><path d="M0-4.6c2.9 0 4.9 1.7 4.9 3.5 0 1-.9 1.6-2 1.6H.9v2.4c0 .9.5 1.3 1.4 1.5v.5h-4.6v-.5c.9-.2 1.4-.6 1.4-1.5V.5h-2c-1.100 0-2-.6-2-1.600 0-1.800 2-3.500 4.900-3.500z" fill="#fff"/></g>
<g transform="translate(45,288.5)"><circle r="8.5" fill="#fff"/><circle r="7.6" fill="#2f9e24"/><path d="M0-4.6c2.9 0 4.9 1.7 4.9 3.5 0 1-.9 1.6-2 1.6H.9v2.4c0 .9.5 1.3 1.4 1.5v.5h-4.6v-.5c.9-.2 1.4-.6 1.4-1.5V.5h-2c-1.100 0-2-.6-2-1.600 0-1.800 2-3.500 4.900-3.500z" fill="#fff"/></g>
<g transform="translate(769.6,243)"><circle r="8.5" fill="#fff"/><circle r="7.6" fill="#2f9e24"/><path d="M0-4.6c2.9 0 4.9 1.7 4.9 3.5 0 1-.9 1.6-2 1.6H.9v2.4c0 .9.5 1.3 1.4 1.5v.5h-4.6v-.5c.9-.2 1.4-.6 1.4-1.5V.5h-2c-1.100 0-2-.6-2-1.600 0-1.800 2-3.500 4.900-3.500z" fill="#fff"/></g>
<g transform="translate(310.8,593)"><circle r="8.5" fill="#fff"/><circle r="7.6" fill="#2f9e24"/><path d="M0-4.6c2.9 0 4.9 1.7 4.9 3.5 0 1-.9 1.6-2 1.6H.9v2.4c0 .9.5 1.3 1.4 1.5v.5h-4.6v-.5c.9-.2 1.4-.6 1.4-1.5V.5h-2c-1.100 0-2-.6-2-1.600 0-1.800 2-3.500 4.900-3.500z" fill="#fff"/></g>
<g transform="translate(387.7,257)"><path d="M-6.600-6.400h13.200v7.400c0 2.300-2.600 4.200-6.600 6.400-4-2.200-6.600-4.100-6.600-6.400z" fill="#3c4fc6" stroke="#fff" stroke-width=".8"/><text x="0" y="1.800" text-anchor="middle" font-size="7.6" font-weight="700" fill="#dfe4ff">52</text></g>
<g transform="translate(273.6,352.6)"><path d="M-6.600-6.400h13.200v7.400c0 2.300-2.600 4.200-6.600 6.400-4-2.200-6.600-4.100-6.600-6.400z" fill="#3c4fc6" stroke="#fff" stroke-width=".8"/><text x="0" y="1.800" text-anchor="middle" font-size="7.6" font-weight="700" fill="#dfe4ff">52</text></g>
<rect x="592.4" y="230" width="15.9" height="10.3" rx="1.5" fill="#2a9d37" stroke="#e9f5e6" stroke-width=".9"/><text x="600.3" y="238.1" text-anchor="middle" font-size="8.2" font-weight="700" fill="#f3e24a">A1</text>
<rect x="697.5" y="305.2" width="16.5" height="10.8" rx="1.5" fill="#2a9d37" stroke="#e9f5e6" stroke-width=".9"/><text x="705.8" y="313.5" text-anchor="middle" font-size="8.2" font-weight="700" fill="#f3e24a">A1</text>
<rect x="762.7" y="405.8" width="16.3" height="9.6" rx="1.5" fill="#2a9d37" stroke="#e9f5e6" stroke-width=".9"/><text x="770.9" y="413.5" text-anchor="middle" font-size="8.2" font-weight="700" fill="#f3e24a">A1</text>
<rect x="414.8" y="81.7" width="15.7" height="21.9" rx="2.6" fill="#43996f" stroke="#141414" stroke-width="1"/>
<circle cx="423" cy="86.7" r="1.3" fill="#e9b52e" stroke="#3a5" stroke-width=".3"/>
<rect x="445.6" y="89.6" width="15.9" height="13.4" rx="2" fill="#e9b52e" stroke="#141414" stroke-width="1"/>
<rect x="442.5" y="102.7" width="20.9" height="19.2" rx="2.6" fill="#43996f" stroke="#141414" stroke-width="1"/>
<line x1="431" y1="86.5" x2="446" y2="91.5" stroke="#3a2f10" stroke-width="3"/><line x1="431" y1="86.5" x2="446" y2="91.5" stroke="#efb62a" stroke-width="2.2" stroke-dasharray="2.2 1.2"/>
<line x1="431" y1="99" x2="446" y2="93" stroke="#3a2f10" stroke-width="3"/><line x1="431" y1="99" x2="446" y2="93" stroke="#efb62a" stroke-width="2.2" stroke-dasharray="2.2 1.2"/>
<rect x="466.8" y="90.6" width="15.8" height="13.7" rx="2" fill="#e9b52e" stroke="#141414" stroke-width="1"/>
<rect x="463.8" y="101.6" width="21.2" height="21.2" rx="2.6" fill="#43996f" stroke="#141414" stroke-width="1"/>
<line x1="459.5" y1="107" x2="474" y2="100.5" stroke="#3a2f10" stroke-width="3"/><line x1="459.5" y1="107" x2="474" y2="100.5" stroke="#efb62a" stroke-width="2.2" stroke-dasharray="2.2 1.2"/>
<line x1="459.5" y1="109" x2="474" y2="115" stroke="#3a2f10" stroke-width="3"/><line x1="459.5" y1="109" x2="474" y2="115" stroke="#efb62a" stroke-width="2.2" stroke-dasharray="2.2 1.2"/>
<rect x="474.8" y="96.3" width="15.8" height="22.4" rx="2.6" fill="#43996f" stroke="#141414" stroke-width="1"/>
<circle cx="450.5" cy="95.4" r="1.3" fill="#3b9a8a" stroke="#3a5" stroke-width=".3"/>
<circle cx="471.4" cy="97.2" r="1.3" fill="#3b9a8a" stroke="#3a5" stroke-width=".3"/>
<circle cx="482.3" cy="113.2" r="1.3" fill="#e9b52e" stroke="#3a5" stroke-width=".3"/>
<text x="398.0" y="96.2" font-size="9.6" letter-spacing="-0.568" fill="#fff" opacity="0.55">SJM Harvester 2</text>
<text x="462.4" y="110.6" font-size="9.6" letter-spacing="-0.682" fill="#fff" opacity="0.6">Loco 2</text>
<rect x="814.4" y="540.9" width="16.3" height="13.6" rx="2" fill="#e9b52e" stroke="#141414" stroke-width="1"/>
<circle cx="818.6" cy="546.6" r="1.3" fill="#3b9a8a" stroke="#3a5" stroke-width=".3"/>
<rect x="811.3" y="553.2" width="21.6" height="19.7" rx="3" fill="#43996f" stroke="#141414" stroke-width="1"/>
<text x="810.0" y="560.2" font-size="7.4" letter-spacing="-0.651" fill="#fff" opacity="0.75">LOCO</text>
<g opacity=".9"><circle cx="21.8" cy="588.4" r="8" fill="#fff" fill-opacity=".85" stroke="#555" stroke-width=".8" stroke-opacity=".6"/><circle cx="22.4" cy="588" r="4.600" fill="none" stroke="#777" stroke-opacity=".5" stroke-width="1.2"/><path d="M28 581c5 0 8.500 2.500 8.500 7.500s-3.500 8-8.500 8c2-1.800 3.400-4.600 3.400-7.800s-1.400-6-3.400-7.700z" fill="#3247c4"/></g>
<text x="34.2" y="592.6" font-size="14.6" letter-spacing="-0.191" fill="#fff" font-weight="700" stroke="#777" stroke-width="1.2" stroke-linejoin="round" paint-order="stroke" opacity="0.95">mapbox</text></svg></div>
<div class="b" style="left:1250.7px;top:67.8px;width:26.8px;height:26.4px;background:#fff;border-radius:3.4px;box-shadow:0 0 0 1.4px rgba(0,0,0,.09)"><svg width="26.8" height="26.4" viewBox="0 0 26.8 26.4" style="display:block"><path d="M13.4 6.800 16.800 13h-6.800z" fill="#222"/><path d="M13.4 20.400 16.800 14.200h-6.800z" fill="#c4c4c4"/></svg></div>
<div class="b" style="left:1250.9px;top:99.3px;width:26.4px;height:33.6px;background:#fff;border-radius:3.4px;box-shadow:0 0 0 1.4px rgba(0,0,0,.06)"><svg width="26.4" height="33.6" viewBox="0 0 26.4 33.6" style="display:block"><g fill="none" stroke="#222" stroke-width="1" opacity="1" stroke-linecap="round" stroke-linejoin="round"><path d="M16.68 12.74A5.2 5.2 0 1 0 17.06 20.08"/><path d="M18.76 11.08V14.28H15.56"/></g></svg></div>
<div class="b" style="left:1211px;top:509.900px;width:65.8px;height:18.7px;background:rgba(255,255,255,.78);border:1.4px solid #2e2e2e;border-top:none"></div>
<span class="t" style="left:1216.70px;top:514.13px;font-size:8.6px;line-height:11.18px;color:#2e2e2e;letter-spacing:0.258px;">3 km</span>
<div class="b" style="left:1040.2px;top:538.4px;width:246px;height:17.6px;background:rgba(255,255,255,.5)"></div>
<span class="t" style="left:1044.90px;top:541.14px;font-size:10.6px;line-height:13.78px;color:#404040;letter-spacing:0.234px;">© Mapbox © OpenStreetMap</span>
<span class="t" style="left:1192.70px;top:541.34px;font-size:10.4px;line-height:13.52px;font-weight:700;color:#333;letter-spacing:0.177px;">Improve this map</span>
<div class="b" style="left:1286.2px;top:27px;width:3.8px;height:528.5px;background:#c9c9c9;"></div>
<aside class="b" style="left:1290px;top:27px;width:253px;height:528.5px;background:#e5f2eb">
<div class="b" style="left:0px;top:0px;width:253px;height:21px;background:#e0e0e0;"></div>
<span class="t" style="left:7.50px;top:3.04px;font-size:11.2px;line-height:14.56px;color:#333;letter-spacing:0.342px;">Background</span>
<div class="b" style="left:7.5px;top:28.6px;width:238.1px;height:26.7px;background:#fff;box-shadow:0 0 0 .8px #dde3e3;border-radius:3.2px"></div>
<span class="t" style="left:15.50px;top:34.94px;font-size:11.2px;line-height:14.56px;color:#333;letter-spacing:0.271px;">Standard</span>
<div class="b" style="left:0px;top:63.30000000000001px;width:253px;height:20.6px;background:#e0e0e0;"></div>
<span class="t" style="left:7.50px;top:65.84px;font-size:11.2px;line-height:14.56px;color:#333;letter-spacing:0.141px;">Layers</span>
<div class="cb on" style="left:7.10px;top:95.10px;width:12.8px;height:12.8px"><svg width="12.8" height="12.8" viewBox="0 0 20 20" style="display:block"><path fill="none" stroke="#fff" stroke-width="3" stroke-linecap="round" stroke-linejoin="round" d="M6 10l3 3 6-6"/></svg></div>
<span class="t" style="left:27.70px;top:96.74px;font-size:11.2px;line-height:14.56px;color:#333;letter-spacing:-0.051px;">Farms</span>
<svg class="i" style="left:234.90px;top:95.50px" width="11.6" height="11.6" viewBox="0 0 16 16" fill="#444" ><path d="M1.5 1a.5.5 0 0 0-.5.5v4a.5.5 0 0 1-1 0v-4A1.5 1.5 0 0 1 1.5 0h4a.5.5 0 0 1 0 1zM10 .5a.5.5 0 0 1 .5-.5h4A1.5 1.5 0 0 1 16 1.5v4a.5.5 0 0 1-1 0v-4a.5.5 0 0 0-.5-.5h-4a.5.5 0 0 1-.5-.5M.5 10a.5.5 0 0 1 .5.5v4a.5.5 0 0 0 .5.5h4a.5.5 0 0 1 0 1h-4A1.5 1.5 0 0 1 0 14.5v-4a.5.5 0 0 1 .5-.5m15 0a.5.5 0 0 1 .5.5v4a1.5 1.5 0 0 1-1.5 1.5h-4a.5.5 0 0 1 0-1h4a.5.5 0 0 0 .5-.5v-4a.5.5 0 0 1 .5-.5"/></svg>
<div class="cb off" style="left:7.10px;top:124.25px;width:12.8px;height:12.8px"></div>
<span class="t" style="left:27.70px;top:125.89px;font-size:11.2px;line-height:14.56px;color:#333;letter-spacing:0.211px;">Farm Labels</span>
<svg class="i" style="left:234.90px;top:124.65px" width="11.6" height="11.6" viewBox="0 0 16 16" fill="#444" ><path d="M1.5 1a.5.5 0 0 0-.5.5v4a.5.5 0 0 1-1 0v-4A1.5 1.5 0 0 1 1.5 0h4a.5.5 0 0 1 0 1zM10 .5a.5.5 0 0 1 .5-.5h4A1.5 1.5 0 0 1 16 1.5v4a.5.5 0 0 1-1 0v-4a.5.5 0 0 0-.5-.5h-4a.5.5 0 0 1-.5-.5M.5 10a.5.5 0 0 1 .5.5v4a.5.5 0 0 0 .5.5h4a.5.5 0 0 1 0 1h-4A1.5 1.5 0 0 1 0 14.5v-4a.5.5 0 0 1 .5-.5m15 0a.5.5 0 0 1 .5.5v4a1.5 1.5 0 0 1-1.5 1.5h-4a.5.5 0 0 1 0-1h4a.5.5 0 0 0 .5-.5v-4a.5.5 0 0 1 .5-.5"/></svg>
<div class="cb on" style="left:7.10px;top:153.40px;width:12.8px;height:12.8px"><svg width="12.8" height="12.8" viewBox="0 0 20 20" style="display:block"><path fill="none" stroke="#fff" stroke-width="3" stroke-linecap="round" stroke-linejoin="round" d="M6 10l3 3 6-6"/></svg></div>
<span class="t" style="left:27.70px;top:155.04px;font-size:11.2px;line-height:14.56px;color:#333;letter-spacing:0.243px;">Farm Blocks</span>
<svg class="i" style="left:234.90px;top:153.80px" width="11.6" height="11.6" viewBox="0 0 16 16" fill="#444" ><path d="M1.5 1a.5.5 0 0 0-.5.5v4a.5.5 0 0 1-1 0v-4A1.5 1.5 0 0 1 1.5 0h4a.5.5 0 0 1 0 1zM10 .5a.5.5 0 0 1 .5-.5h4A1.5 1.5 0 0 1 16 1.5v4a.5.5 0 0 1-1 0v-4a.5.5 0 0 0-.5-.5h-4a.5.5 0 0 1-.5-.5M.5 10a.5.5 0 0 1 .5.5v4a.5.5 0 0 0 .5.5h4a.5.5 0 0 1 0 1h-4A1.5 1.5 0 0 1 0 14.5v-4a.5.5 0 0 1 .5-.5m15 0a.5.5 0 0 1 .5.5v4a1.5 1.5 0 0 1-1.5 1.5h-4a.5.5 0 0 1 0-1h4a.5.5 0 0 0 .5-.5v-4a.5.5 0 0 1 .5-.5"/></svg>
<div class="cb off" style="left:7.10px;top:182.55px;width:12.8px;height:12.8px"></div>
<span class="t" style="left:27.70px;top:184.19px;font-size:11.2px;line-height:14.56px;color:#333;letter-spacing:0.36px;">Block Labels</span>
<svg class="i" style="left:234.90px;top:182.95px" width="11.6" height="11.6" viewBox="0 0 16 16" fill="#444" ><path d="M1.5 1a.5.5 0 0 0-.5.5v4a.5.5 0 0 1-1 0v-4A1.5 1.5 0 0 1 1.5 0h4a.5.5 0 0 1 0 1zM10 .5a.5.5 0 0 1 .5-.5h4A1.5 1.5 0 0 1 16 1.5v4a.5.5 0 0 1-1 0v-4a.5.5 0 0 0-.5-.5h-4a.5.5 0 0 1-.5-.5M.5 10a.5.5 0 0 1 .5.5v4a.5.5 0 0 0 .5.5h4a.5.5 0 0 1 0 1h-4A1.5 1.5 0 0 1 0 14.5v-4a.5.5 0 0 1 .5-.5m15 0a.5.5 0 0 1 .5.5v4a1.5 1.5 0 0 1-1.5 1.5h-4a.5.5 0 0 1 0-1h4a.5.5 0 0 0 .5-.5v-4a.5.5 0 0 1 .5-.5"/></svg>
<div class="cb on" style="left:7.10px;top:211.70px;width:12.8px;height:12.8px"><svg width="12.8" height="12.8" viewBox="0 0 20 20" style="display:block"><path fill="none" stroke="#fff" stroke-width="3" stroke-linecap="round" stroke-linejoin="round" d="M6 10l3 3 6-6"/></svg></div>
<span class="t" style="left:27.70px;top:213.34px;font-size:11.2px;line-height:14.56px;color:#333;letter-spacing:0.333px;">Vehicles</span>
<svg class="i" style="left:234.90px;top:212.10px" width="11.6" height="11.6" viewBox="0 0 16 16" fill="#444" ><path d="M1.5 1a.5.5 0 0 0-.5.5v4a.5.5 0 0 1-1 0v-4A1.5 1.5 0 0 1 1.5 0h4a.5.5 0 0 1 0 1zM10 .5a.5.5 0 0 1 .5-.5h4A1.5 1.5 0 0 1 16 1.5v4a.5.5 0 0 1-1 0v-4a.5.5 0 0 0-.5-.5h-4a.5.5 0 0 1-.5-.5M.5 10a.5.5 0 0 1 .5.5v4a.5.5 0 0 0 .5.5h4a.5.5 0 0 1 0 1h-4A1.5 1.5 0 0 1 0 14.5v-4a.5.5 0 0 1 .5-.5m15 0a.5.5 0 0 1 .5.5v4a1.5 1.5 0 0 1-1.5 1.5h-4a.5.5 0 0 1 0-1h4a.5.5 0 0 0 .5-.5v-4a.5.5 0 0 1 .5-.5"/></svg>
<div class="cb on" style="left:7.10px;top:240.85px;width:12.8px;height:12.8px"><svg width="12.8" height="12.8" viewBox="0 0 20 20" style="display:block"><path fill="none" stroke="#fff" stroke-width="3" stroke-linecap="round" stroke-linejoin="round" d="M6 10l3 3 6-6"/></svg></div>
<span class="t" style="left:27.70px;top:242.49px;font-size:11.2px;line-height:14.56px;color:#333;letter-spacing:0.326px;">Vehicle Labels</span>
<svg class="i" style="left:234.90px;top:241.25px" width="11.6" height="11.6" viewBox="0 0 16 16" fill="#444" ><path d="M1.5 1a.5.5 0 0 0-.5.5v4a.5.5 0 0 1-1 0v-4A1.5 1.5 0 0 1 1.5 0h4a.5.5 0 0 1 0 1zM10 .5a.5.5 0 0 1 .5-.5h4A1.5 1.5 0 0 1 16 1.5v4a.5.5 0 0 1-1 0v-4a.5.5 0 0 0-.5-.5h-4a.5.5 0 0 1-.5-.5M.5 10a.5.5 0 0 1 .5.5v4a.5.5 0 0 0 .5.5h4a.5.5 0 0 1 0 1h-4A1.5 1.5 0 0 1 0 14.5v-4a.5.5 0 0 1 .5-.5m15 0a.5.5 0 0 1 .5.5v4a1.5 1.5 0 0 1-1.5 1.5h-4a.5.5 0 0 1 0-1h4a.5.5 0 0 0 .5-.5v-4a.5.5 0 0 1 .5-.5"/></svg>
<div class="cb on" style="left:7.10px;top:270.00px;width:12.8px;height:12.8px"><svg width="12.8" height="12.8" viewBox="0 0 20 20" style="display:block"><path fill="none" stroke="#fff" stroke-width="3" stroke-linecap="round" stroke-linejoin="round" d="M6 10l3 3 6-6"/></svg></div>
<span class="t" style="left:27.70px;top:271.64px;font-size:11.2px;line-height:14.56px;color:#333;letter-spacing:0.212px;">Vehicle Tracks</span>
<svg class="i" style="left:234.90px;top:270.40px" width="11.6" height="11.6" viewBox="0 0 16 16" fill="#444" ><path d="M1.5 1a.5.5 0 0 0-.5.5v4a.5.5 0 0 1-1 0v-4A1.5 1.5 0 0 1 1.5 0h4a.5.5 0 0 1 0 1zM10 .5a.5.5 0 0 1 .5-.5h4A1.5 1.5 0 0 1 16 1.5v4a.5.5 0 0 1-1 0v-4a.5.5 0 0 0-.5-.5h-4a.5.5 0 0 1-.5-.5M.5 10a.5.5 0 0 1 .5.5v4a.5.5 0 0 0 .5.5h4a.5.5 0 0 1 0 1h-4A1.5 1.5 0 0 1 0 14.5v-4a.5.5 0 0 1 .5-.5m15 0a.5.5 0 0 1 .5.5v4a1.5 1.5 0 0 1-1.5 1.5h-4a.5.5 0 0 1 0-1h4a.5.5 0 0 0 .5-.5v-4a.5.5 0 0 1 .5-.5"/></svg>
<div class="cb on" style="left:7.10px;top:299.15px;width:12.8px;height:12.8px"><svg width="12.8" height="12.8" viewBox="0 0 20 20" style="display:block"><path fill="none" stroke="#fff" stroke-width="3" stroke-linecap="round" stroke-linejoin="round" d="M6 10l3 3 6-6"/></svg></div>
<span class="t" style="left:27.70px;top:300.79px;font-size:11.2px;line-height:14.56px;color:#333;letter-spacing:0.268px;">Vehicle Track Symbols</span>
<svg class="i" style="left:234.90px;top:299.55px" width="11.6" height="11.6" viewBox="0 0 16 16" fill="#444" ><path d="M1.5 1a.5.5 0 0 0-.5.5v4a.5.5 0 0 1-1 0v-4A1.5 1.5 0 0 1 1.5 0h4a.5.5 0 0 1 0 1zM10 .5a.5.5 0 0 1 .5-.5h4A1.5 1.5 0 0 1 16 1.5v4a.5.5 0 0 1-1 0v-4a.5.5 0 0 0-.5-.5h-4a.5.5 0 0 1-.5-.5M.5 10a.5.5 0 0 1 .5.5v4a.5.5 0 0 0 .5.5h4a.5.5 0 0 1 0 1h-4A1.5 1.5 0 0 1 0 14.5v-4a.5.5 0 0 1 .5-.5m15 0a.5.5 0 0 1 .5.5v4a1.5 1.5 0 0 1-1.5 1.5h-4a.5.5 0 0 1 0-1h4a.5.5 0 0 0 .5-.5v-4a.5.5 0 0 1 .5-.5"/></svg>
<div class="cb on" style="left:7.10px;top:328.30px;width:12.8px;height:12.8px"><svg width="12.8" height="12.8" viewBox="0 0 20 20" style="display:block"><path fill="none" stroke="#fff" stroke-width="3" stroke-linecap="round" stroke-linejoin="round" d="M6 10l3 3 6-6"/></svg></div>
<span class="t" style="left:27.70px;top:329.94px;font-size:11.2px;line-height:14.56px;color:#333;letter-spacing:0.295px;">Consignment Routes</span>
<svg class="i" style="left:234.90px;top:328.70px" width="11.6" height="11.6" viewBox="0 0 16 16" fill="#444" ><path d="M1.5 1a.5.5 0 0 0-.5.5v4a.5.5 0 0 1-1 0v-4A1.5 1.5 0 0 1 1.5 0h4a.5.5 0 0 1 0 1zM10 .5a.5.5 0 0 1 .5-.5h4A1.5 1.5 0 0 1 16 1.5v4a.5.5 0 0 1-1 0v-4a.5.5 0 0 0-.5-.5h-4a.5.5 0 0 1-.5-.5M.5 10a.5.5 0 0 1 .5.5v4a.5.5 0 0 0 .5.5h4a.5.5 0 0 1 0 1h-4A1.5 1.5 0 0 1 0 14.5v-4a.5.5 0 0 1 .5-.5m15 0a.5.5 0 0 1 .5.5v4a1.5 1.5 0 0 1-1.5 1.5h-4a.5.5 0 0 1 0-1h4a.5.5 0 0 0 .5-.5v-4a.5.5 0 0 1 .5-.5"/></svg>
</aside>
<svg class="i" style="left:1532px;top:554px" width="10" height="10" viewBox="0 0 10 10"><path d="M8.3 2.2V8.3H2.6" fill="none" stroke="#a3a3a3" stroke-width="2"/><path d="M8.800 1.400 1.800 8.800h7z" fill="#b5b5b5" opacity=".5"/></svg>
</section>
<section class="panel" style="left:1561px;top:49px;width:766px;height:565px">
<div class="ph"></div>
<span class="t" style="left:13.60px;top:5.14px;font-size:12.8px;line-height:16.64px;color:#fff;letter-spacing:0.218px;">Vehicles</span>
<svg class="i" style="left:650.00px;top:6.40px" width="13.4" height="13.4" viewBox="0 0 16 16" fill="#fff" ><path fill-rule="evenodd" d="M8 2a.5.5 0 0 1 .5.5v5h5a.5.5 0 0 1 0 1h-5v5a.5.5 0 0 1-1 0v-5h-5a.5.5 0 0 1 0-1h5v-5A.5.5 0 0 1 8 2"/></svg>
<svg class="i" style="left:0;top:0;pointer-events:none" width="766" height="30" viewBox="0 0 766 30"><path d="M677.40 8.40L689.80 8.40L684.90 14.80L684.90 18.50L682.30 17.30L682.30 14.80Z" fill="none" stroke="#fff" stroke-width=".95" stroke-linejoin="round" opacity="0.9"/><g fill="none" stroke="#fff" stroke-width="0.95" opacity="0.9" stroke-linecap="round" stroke-linejoin="round"><path d="M713.65 9.58A5.0 5.0 0 1 0 714.02 16.65"/><path d="M715.70 7.90V11.10H712.50"/></g></svg>
<svg class="i" style="left:736.90px;top:9.30px" width="9.6" height="9.6" viewBox="0 0 16 16" fill="#fff" ><g stroke="#fff" stroke-width="3.1" stroke-linecap="round"><path d="M3.4 3.4 12.6 12.6M12.6 3.4 3.4 12.6"/></g></svg>
<span class="t" style="left:10.70px;top:44.34px;font-size:10.8px;line-height:14.04px;font-weight:700;color:#000;">Name</span>
<span class="t" style="left:188.20px;top:44.34px;font-size:10.8px;line-height:14.04px;font-weight:700;color:#000;">Type</span>
<span class="t" style="left:306.30px;top:44.34px;font-size:10.8px;line-height:14.04px;font-weight:700;color:#000;">Status</span>
<span class="t" style="left:542.70px;top:44.34px;font-size:10.8px;line-height:14.04px;font-weight:700;color:#000;">Logger</span>
<span class="t" style="left:696.20px;top:44.34px;font-size:10.8px;line-height:14.04px;font-weight:700;color:#000;">Enabled</span>
<div class="b" style="left:7px;top:64px;width:751px;height:1px;background:#36a04f;"></div>
<div class="b" style="left:7px;top:64px;width:751px;height:29px;background:#f2f2f2;"></div>
<div class="b" style="left:7px;top:93px;width:751px;height:1px;background:#dee2e6;"></div>
<span class="t" style="left:13.50px;top:71.04px;font-size:11.2px;line-height:14.56px;color:#212529;letter-spacing:-0.279px;">Loco 1</span>
<span class="t" style="left:190.50px;top:71.04px;font-size:11.2px;line-height:14.56px;color:#212529;letter-spacing:-0.115px;">Loco (Haulage)</span>
<span class="t" style="left:308.50px;top:71.04px;font-size:11.2px;line-height:14.56px;color:#212529;">Standby</span>
<span class="t" style="left:544.80px;top:71.04px;font-size:11.2px;line-height:14.56px;color:#212529;">1</span>
<span class="t" style="left:709.74px;top:71.04px;font-size:11.2px;line-height:14.56px;color:#212529;">No</span>
<div class="b" style="left:7px;top:123px;width:751px;height:1px;background:#dee2e6;"></div>
<span class="t" style="left:13.50px;top:100.84px;font-size:11.2px;line-height:14.56px;color:#212529;letter-spacing:-0.059px;">Loco 2</span>
<span class="t" style="left:190.50px;top:100.84px;font-size:11.2px;line-height:14.56px;color:#212529;letter-spacing:-0.115px;">Loco (Haulage)</span>
<span class="t" style="left:308.50px;top:100.84px;font-size:11.2px;line-height:14.56px;color:#212529;">Standby</span>
<span class="t" style="left:544.80px;top:100.84px;font-size:11.2px;line-height:14.56px;color:#212529;letter-spacing:-.2px;">864292047344930</span>
<span class="t" style="left:709.74px;top:100.84px;font-size:11.2px;line-height:14.56px;color:#212529;">No</span>
<div class="b" style="left:7px;top:124px;width:751px;height:29px;background:#f2f2f2;"></div>
<div class="b" style="left:7px;top:153px;width:751px;height:1px;background:#dee2e6;"></div>
<span class="t" style="left:13.50px;top:130.64px;font-size:11.2px;line-height:14.56px;color:#212529;letter-spacing:-0.059px;">Loco 3</span>
<span class="t" style="left:190.50px;top:130.64px;font-size:11.2px;line-height:14.56px;color:#212529;letter-spacing:-0.115px;">Loco (Haulage)</span>
<span class="t" style="left:308.50px;top:130.64px;font-size:11.2px;line-height:14.56px;color:#212529;">Standby</span>
<span class="t" style="left:544.80px;top:130.64px;font-size:11.2px;line-height:14.56px;color:#212529;letter-spacing:-.2px;">864292047346935</span>
<span class="t" style="left:709.74px;top:130.64px;font-size:11.2px;line-height:14.56px;color:#212529;">No</span>
<div class="b" style="left:7px;top:182px;width:751px;height:1px;background:#dee2e6;"></div>
<span class="t" style="left:13.50px;top:160.44px;font-size:11.2px;line-height:14.56px;color:#212529;letter-spacing:-0.059px;">Loco 4</span>
<span class="t" style="left:190.50px;top:160.44px;font-size:11.2px;line-height:14.56px;color:#212529;letter-spacing:-0.115px;">Loco (Haulage)</span>
<span class="t" style="left:308.50px;top:160.44px;font-size:11.2px;line-height:14.56px;color:#212529;">Standby</span>
<span class="t" style="left:544.80px;top:160.44px;font-size:11.2px;line-height:14.56px;color:#212529;letter-spacing:-.2px;">864292045345244</span>
<span class="t" style="left:709.74px;top:160.44px;font-size:11.2px;line-height:14.56px;color:#212529;">No</span>
<div class="b" style="left:7px;top:183px;width:751px;height:29px;background:#f2f2f2;"></div>
<div class="b" style="left:7px;top:212px;width:751px;height:1px;background:#dee2e6;"></div>
<span class="t" style="left:13.50px;top:190.24px;font-size:11.2px;line-height:14.56px;color:#212529;letter-spacing:-0.059px;">Loco 5</span>
<span class="t" style="left:190.50px;top:190.24px;font-size:11.2px;line-height:14.56px;color:#212529;letter-spacing:-0.115px;">Loco (Haulage)</span>
<span class="t" style="left:308.50px;top:190.24px;font-size:11.2px;line-height:14.56px;color:#212529;">Standby</span>
<span class="t" style="left:544.80px;top:190.24px;font-size:11.2px;line-height:14.56px;color:#212529;letter-spacing:-.2px;">864292047345002</span>
<span class="t" style="left:709.74px;top:190.24px;font-size:11.2px;line-height:14.56px;color:#212529;">No</span>
<div class="b" style="left:7px;top:242px;width:751px;height:1px;background:#dee2e6;"></div>
<span class="t" style="left:13.50px;top:220.04px;font-size:11.2px;line-height:14.56px;color:#212529;letter-spacing:-0.019px;">Loco 6</span>
<span class="t" style="left:190.50px;top:220.04px;font-size:11.2px;line-height:14.56px;color:#212529;letter-spacing:-0.115px;">Loco (Haulage)</span>
<span class="t" style="left:308.50px;top:220.04px;font-size:11.2px;line-height:14.56px;color:#212529;">Standby</span>
<span class="t" style="left:544.80px;top:220.04px;font-size:11.2px;line-height:14.56px;color:#212529;letter-spacing:-.2px;">864292047344914</span>
<span class="t" style="left:709.74px;top:220.04px;font-size:11.2px;line-height:14.56px;color:#212529;">No</span>
<div class="b" style="left:7px;top:243px;width:751px;height:29px;background:#f2f2f2;"></div>
<div class="b" style="left:7px;top:272px;width:751px;height:1px;background:#dee2e6;"></div>
<span class="t" style="left:13.50px;top:249.84px;font-size:11.2px;line-height:14.56px;color:#212529;letter-spacing:-0.199px;">Loco 7</span>
<span class="t" style="left:190.50px;top:249.84px;font-size:11.2px;line-height:14.56px;color:#212529;letter-spacing:-0.115px;">Loco (Haulage)</span>
<span class="t" style="left:308.50px;top:249.84px;font-size:11.2px;line-height:14.56px;color:#212529;">Standby</span>
<span class="t" style="left:544.80px;top:249.84px;font-size:11.2px;line-height:14.56px;color:#212529;letter-spacing:-.2px;">864292045345247</span>
<span class="t" style="left:709.74px;top:249.84px;font-size:11.2px;line-height:14.56px;color:#212529;">No</span>
<div class="b" style="left:7px;top:302px;width:751px;height:1px;background:#dee2e6;"></div>
<span class="t" style="left:13.50px;top:279.64px;font-size:11.2px;line-height:14.56px;color:#212529;letter-spacing:-0.019px;">Loco 8</span>
<span class="t" style="left:190.50px;top:279.64px;font-size:11.2px;line-height:14.56px;color:#212529;letter-spacing:-0.115px;">Loco (Haulage)</span>
<span class="t" style="left:308.50px;top:279.64px;font-size:11.2px;line-height:14.56px;color:#212529;">Standby</span>
<span class="t" style="left:544.80px;top:279.64px;font-size:11.2px;line-height:14.56px;color:#212529;letter-spacing:-.2px;">864292047346938</span>
<span class="t" style="left:709.74px;top:279.64px;font-size:11.2px;line-height:14.56px;color:#212529;">No</span>
<div class="b" style="left:7px;top:303px;width:751px;height:29px;background:#f2f2f2;"></div>
<div class="b" style="left:7px;top:332px;width:751px;height:1px;background:#dee2e6;"></div>
<span class="t" style="left:13.50px;top:309.44px;font-size:11.2px;line-height:14.56px;color:#212529;letter-spacing:-0.279px;">SJM Harvester 1</span>
<span class="t" style="left:190.50px;top:309.44px;font-size:11.2px;line-height:14.56px;color:#212529;letter-spacing:-0.025px;">Harvester</span>
<span class="t" style="left:308.50px;top:309.44px;font-size:11.2px;line-height:14.56px;color:#212529;">On</span>
<span class="t" style="left:544.80px;top:309.44px;font-size:11.2px;line-height:14.56px;color:#212529;letter-spacing:-.2px;">864292047346999</span>
<span class="t" style="left:707.78px;top:309.44px;font-size:11.2px;line-height:14.56px;color:#212529;">Yes</span>
<div class="b" style="left:7px;top:361px;width:751px;height:1px;background:#dee2e6;"></div>
<span class="t" style="left:13.50px;top:339.24px;font-size:11.2px;line-height:14.56px;color:#212529;letter-spacing:-0.251px;">SJM Harvester 2</span>
<span class="t" style="left:190.50px;top:339.24px;font-size:11.2px;line-height:14.56px;color:#212529;letter-spacing:-0.025px;">Harvester</span>
<span class="t" style="left:308.50px;top:339.24px;font-size:11.2px;line-height:14.56px;color:#212529;letter-spacing:0.074px;">Cutting</span>
<span class="t" style="left:544.80px;top:339.24px;font-size:11.2px;line-height:14.56px;color:#212529;letter-spacing:-.2px;">864292047346600</span>
<span class="t" style="left:709.74px;top:339.24px;font-size:11.2px;line-height:14.56px;color:#212529;">No</span>
<div class="b" style="left:7px;top:362px;width:751px;height:29px;background:#f2f2f2;"></div>
<div class="b" style="left:7px;top:391px;width:751px;height:1px;background:#dee2e6;"></div>
<span class="t" style="left:13.50px;top:369.04px;font-size:11.2px;line-height:14.56px;color:#212529;letter-spacing:-0.222px;">SJM Harvester 3</span>
<span class="t" style="left:190.50px;top:369.04px;font-size:11.2px;line-height:14.56px;color:#212529;letter-spacing:-0.025px;">Harvester</span>
<span class="t" style="left:308.50px;top:369.04px;font-size:11.2px;line-height:14.56px;color:#212529;letter-spacing:0.074px;">Cutting</span>
<span class="t" style="left:544.80px;top:369.04px;font-size:11.2px;line-height:14.56px;color:#212529;letter-spacing:-.2px;">864292047346601</span>
<span class="t" style="left:709.74px;top:369.04px;font-size:11.2px;line-height:14.56px;color:#212529;">No</span>
<div class="b" style="left:7px;top:401px;width:751px;height:1.6px;background:#36a04f;"></div>
</section>
<section class="panel" style="left:7px;top:625px;width:2320px;height:360px">
<div class="ph"></div>
<span class="t" style="left:13.60px;top:4.64px;font-size:12.8px;line-height:16.64px;color:#fff;letter-spacing:0.172px;">Consignments</span>
<svg class="i" style="left:2178.80px;top:6.80px" width="12.8" height="12.8" viewBox="0 0 16 16" fill="#fff" ><path d="M11.742 10.344a6.5 6.5 0 1 0-1.397 1.398h-.001q.044.06.098.115l3.85 3.85a1 1 0 0 0 1.415-1.414l-3.85-3.85a1 1 0 0 0-.115-.1zM12 6.5a5.5 5.5 0 1 1-11 0 5.5 5.5 0 0 1 11 0"/></svg>
<svg class="i" style="left:2205.10px;top:6.70px" width="13.4" height="13.4" viewBox="0 0 16 16" fill="#fff" ><path fill-rule="evenodd" d="M8 2a.5.5 0 0 1 .5.5v5h5a.5.5 0 0 1 0 1h-5v5a.5.5 0 0 1-1 0v-5h-5a.5.5 0 0 1 0-1h5v-5A.5.5 0 0 1 8 2"/></svg>
<svg class="i" style="left:0;top:0;pointer-events:none" width="2320" height="30" viewBox="0 0 2320 30"><path d="M2231.20 8.70L2243.60 8.70L2238.70 15.10L2238.70 18.80L2236.10 17.60L2236.10 15.10Z" fill="none" stroke="#fff" stroke-width=".95" stroke-linejoin="round" opacity="0.9"/><g fill="none" stroke="#fff" stroke-width="0.95" opacity="0.9" stroke-linecap="round" stroke-linejoin="round"><path d="M2267.55 9.88A5.0 5.0 0 1 0 2267.92 16.95"/><path d="M2269.60 8.20V11.40H2266.40"/></g></svg>
<svg class="i" style="left:2290.90px;top:9.50px" width="9.6" height="9.6" viewBox="0 0 16 16" fill="#fff" ><g stroke="#fff" stroke-width="3.1" stroke-linecap="round"><path d="M3.4 3.4 12.6 12.6M12.6 3.4 3.4 12.6"/></g></svg>
<div class="b" style="left:8.1px;top:36.2px;width:130.6px;height:26.5px;border:1px solid #36a04f;border-radius:4.5px;background:#fff;overflow:hidden"><div class="b" style="left:-1px;top:-1px;width:81.6px;height:26.5px;background:#36a04f"></div></div>
<span class="t" style="left:16.30px;top:41.84px;font-size:11.2px;line-height:14.56px;color:#fff;letter-spacing:0.035px;">At Sidings (t)</span>
<span class="t" style="left:104.85px;top:41.84px;font-size:11.2px;line-height:14.56px;color:#36a04f;letter-spacing:-0.186px;">562</span>
<div class="b" style="left:168.2px;top:36.2px;width:136.6px;height:26.5px;border:1px solid #f0628d;border-radius:4.5px;background:#fff;overflow:hidden"><div class="b" style="left:-1px;top:-1px;width:99.7px;height:26.5px;background:#f0628d"></div></div>
<span class="t" style="left:176.20px;top:41.84px;font-size:11.2px;line-height:14.56px;color:#fff;letter-spacing:0.137px;">Onway to Mill (t)</span>
<span class="t" style="left:282.88px;top:41.84px;font-size:11.2px;line-height:14.56px;color:#f0628d;">0</span>
<div class="b" style="left:318.6px;top:36.2px;width:141.3px;height:26.5px;border:1px solid #5c6bc0;border-radius:4.5px;background:#fff;overflow:hidden"><div class="b" style="left:-1px;top:-1px;width:104.4px;height:26.5px;background:#5c6bc0"></div></div>
<span class="t" style="left:327.60px;top:41.84px;font-size:11.2px;line-height:14.56px;color:#fff;letter-spacing:0.135px;">Delayed Cane (t)</span>
<span class="t" style="left:437.88px;top:41.84px;font-size:11.2px;line-height:14.56px;color:#5c6bc0;">0</span>
<div class="b" style="left:584px;top:75px;width:287.2px;height:24px;background:#f5873d;"></div>
<span class="t" style="left:698.80px;top:78.94px;font-size:10.8px;line-height:14.04px;font-weight:700;color:#fff;">Farm block</span>
<div class="b" style="left:1159.6px;top:75px;width:494.9px;height:24px;background:#a050f5;"></div>
<span class="t" style="left:1386.04px;top:78.94px;font-size:10.8px;line-height:14.04px;font-weight:700;color:#fff;">Haulage</span>
<div class="b" style="left:1654.5px;top:75px;width:206.7px;height:24px;background:#e6428f;"></div>
<span class="t" style="left:1746.15px;top:78.94px;font-size:10.8px;line-height:14.04px;font-weight:700;color:#fff;">Bins</span>
<div class="b" style="left:1861.2px;top:75px;width:422.8px;height:24px;background:#2eb85c;"></div>
<span class="t" style="left:2047.69px;top:78.94px;font-size:10.8px;line-height:14.04px;font-weight:700;color:#fff;">Harvester</span>
<div class="cbs" style="left:11.4px;top:105.4px"></div>
<svg class="i" style="left:25.6px;top:111.8px" width="8" height="6" viewBox="0 0 8 6"><path d="M.8 1.2h6.4L4 5z" fill="#fff" stroke="#2a2a55" stroke-width=".9" stroke-linejoin="round"/></svg>
<span class="t" style="left:46.90px;top:105.14px;font-size:10.8px;line-height:14.04px;font-weight:700;color:#000;">Source Siding</span>
<span class="t" style="left:316.80px;top:105.14px;font-size:10.8px;line-height:14.04px;font-weight:700;color:#000;">Target Siding</span>
<span class="t" style="left:587.60px;top:105.14px;font-size:10.8px;line-height:14.04px;font-weight:700;color:#000;">Name</span>
<span class="t" style="left:738.28px;top:105.14px;font-size:10.8px;line-height:14.04px;font-weight:700;color:#000;">Area (Ha)</span>
<span class="t" style="left:807.80px;top:105.14px;font-size:10.8px;line-height:14.04px;font-weight:700;color:#000;">Yield (T/Ha)</span>
<span class="t" style="left:899.00px;top:105.14px;font-size:10.8px;line-height:14.04px;font-weight:700;color:#000;">Connote #</span>
<span class="t" style="left:982.80px;top:105.14px;font-size:10.8px;line-height:14.04px;font-weight:700;color:#000;">Status</span>
<span class="t" style="left:1163.20px;top:105.14px;font-size:10.8px;line-height:14.04px;font-weight:700;color:#000;">Haulage</span>
<span class="t" style="left:1314.02px;top:105.14px;font-size:10.8px;line-height:14.04px;font-weight:700;color:#000;">Duration (Hr)</span>
<span class="t" style="left:1397.99px;top:105.14px;font-size:10.8px;line-height:14.04px;font-weight:700;color:#000;">Distance (Km)</span>
<span class="t" style="left:1558.79px;top:105.14px;font-size:10.8px;line-height:14.04px;font-weight:700;color:#000;">Departed</span>
<span class="t" style="left:1613.00px;top:105.14px;font-size:10.8px;line-height:14.04px;font-weight:700;color:#000;">ETA</span>
<span class="t" style="left:1671.49px;top:105.14px;font-size:10.8px;line-height:14.04px;font-weight:700;color:#000;"># Bins</span>
<span class="t" style="left:1723.60px;top:105.14px;font-size:10.8px;line-height:14.04px;font-weight:700;color:#000;">Capacity (T)</span>
<span class="t" style="left:1815.90px;top:105.14px;font-size:10.8px;line-height:14.04px;font-weight:700;color:#000;">Filled %</span>
<span class="t" style="left:1865.50px;top:105.14px;font-size:10.8px;line-height:14.04px;font-weight:700;color:#000;">Harvester</span>
<span class="t" style="left:2015.50px;top:105.14px;font-size:10.8px;line-height:14.04px;font-weight:700;color:#000;">Status</span>
<span class="t" style="left:2074.50px;top:105.14px;font-size:10.8px;line-height:14.04px;font-weight:700;color:#000;">Complete %</span>
<span class="t" style="left:2173.52px;top:105.14px;font-size:10.8px;line-height:14.04px;font-weight:700;color:#000;">Cut (T)</span>
<span class="t" style="left:2237.82px;top:105.14px;font-size:10.8px;line-height:14.04px;font-weight:700;color:#000;">Cut (Ha)</span>
<div class="b" style="left:7px;top:125px;width:2306px;height:1px;background:#36a04f;"></div>
<div class="b" style="left:7px;top:126px;width:2306px;height:29px;background:#f2f2f2;"></div>
<div class="b" style="left:584px;top:126px;width:287px;height:29px;background:#f2e6de;"></div>
<div class="b" style="left:1160px;top:126px;width:495px;height:29px;background:#e8e0f0;"></div>
<div class="b" style="left:1655px;top:126px;width:206px;height:29px;background:#f0dee8;"></div>
<div class="b" style="left:1861px;top:126px;width:423px;height:29px;background:#d9ebe0;"></div>
<div class="b" style="left:7px;top:155px;width:2306px;height:1px;background:#dee2e6;"></div>
<div class="cbs" style="left:19.4px;top:133.0px"></div>
<span class="t" style="left:49.00px;top:133.34px;font-size:11.2px;line-height:14.56px;color:#212529;letter-spacing:-0.062px;">Mulgrave Mill (Test)</span>
<span class="t" style="left:319.00px;top:133.34px;font-size:11.2px;line-height:14.56px;color:#212529;letter-spacing:-0.159px;">Harvey Creek Road Siding</span>
<span class="t" style="left:589.50px;top:133.34px;font-size:11.2px;line-height:14.56px;color:#212529;">100-2-A</span>
<span class="t" style="left:762.72px;top:133.34px;font-size:11.2px;line-height:14.56px;color:#212529;letter-spacing:-.2px;">2.39</span>
<span class="t" style="left:852.55px;top:133.34px;font-size:11.2px;line-height:14.56px;color:#212529;">61</span>
<span class="t" style="left:923.53px;top:133.34px;font-size:11.2px;line-height:14.56px;color:#212529;">-</span>
<span class="t" style="left:985.00px;top:133.34px;font-size:11.2px;line-height:14.56px;color:#212529;letter-spacing:-0.002px;">At Siding - Empty</span>
<span class="t" style="left:1165.40px;top:133.34px;font-size:11.2px;line-height:14.56px;color:#212529;letter-spacing:-0.279px;">Loco 1</span>
<span class="t" style="left:1362.84px;top:133.34px;font-size:11.2px;line-height:14.56px;color:#212529;letter-spacing:-.2px;">5.6</span>
<span class="t" style="left:1455.95px;top:133.34px;font-size:11.2px;line-height:14.56px;color:#212529;">68</span>
<span class="t" style="left:1518.50px;top:133.34px;font-size:11.2px;line-height:14.56px;color:#212529;letter-spacing:-0.23px;">2025-12-26 00:53</span>
<span class="t" style="left:1615.50px;top:133.34px;font-size:11.2px;line-height:14.56px;color:#212529;">-</span>
<span class="t" style="left:1689.65px;top:133.34px;font-size:11.2px;line-height:14.56px;color:#212529;">19</span>
<span class="t" style="left:1765.36px;top:133.34px;font-size:11.2px;line-height:14.56px;color:#212529;letter-spacing:-.2px;">114</span>
<span class="t" style="left:1823.17px;top:133.34px;font-size:11.2px;line-height:14.56px;color:#212529;letter-spacing:-.2px;">57.7%</span>
<span class="t" style="left:1867.70px;top:133.34px;font-size:11.2px;line-height:14.56px;color:#212529;letter-spacing:-0.279px;">SJM Harvester 1</span>
<span class="t" style="left:2024.53px;top:133.34px;font-size:11.2px;line-height:14.56px;color:#212529;">On</span>
<span class="t" style="left:2102.67px;top:133.34px;font-size:11.2px;line-height:14.56px;color:#212529;letter-spacing:-.2px;">45.2%</span>
<span class="t" style="left:2184.42px;top:133.34px;font-size:11.2px;line-height:14.56px;color:#212529;letter-spacing:-.2px;">65.8</span>
<span class="t" style="left:2255.72px;top:133.34px;font-size:11.2px;line-height:14.56px;color:#212529;letter-spacing:-.2px;">1.08</span>
<svg class="i" style="left:2295.90px;top:132.10px" width="11" height="11" viewBox="0 0 16 16" fill="#2b2b4b" ><path d="M15.502 1.94a.5.5 0 0 1 0 .706L14.459 3.69l-2-2L13.502.646a.5.5 0 0 1 .707 0l1.293 1.293zm-1.75 2.456-2-2L4.939 9.21a.5.5 0 0 0-.121.196l-.805 2.414a.25.25 0 0 0 .316.316l2.414-.805a.5.5 0 0 0 .196-.12l6.813-6.814z"/><path fill-rule="evenodd" d="M1 13.5A1.5 1.5 0 0 0 2.5 15h11a1.5 1.5 0 0 0 1.5-1.5v-6a.5.5 0 0 0-1 0v6a.5.5 0 0 1-.5.5h-11a.5.5 0 0 1-.5-.5v-11a.5.5 0 0 1 .5-.5H9a.5.5 0 0 0 0-1H2.5A1.5 1.5 0 0 0 1 2.5z"/></svg>
<div class="b" style="left:584px;top:156px;width:287px;height:29px;background:#fef1e8;"></div>
<div class="b" style="left:1160px;top:156px;width:495px;height:29px;background:#f5edfd;"></div>
<div class="b" style="left:1655px;top:156px;width:206px;height:29px;background:#fdebf3;"></div>
<div class="b" style="left:1861px;top:156px;width:423px;height:29px;background:#e8f7ee;"></div>
<div class="b" style="left:7px;top:185px;width:2306px;height:1px;background:#dee2e6;"></div>
<div class="cbs" style="left:19.4px;top:163.0px"></div>
<span class="t" style="left:49.00px;top:163.34px;font-size:11.2px;line-height:14.56px;color:#212529;letter-spacing:-0.062px;">Mulgrave Mill (Test)</span>
<span class="t" style="left:319.00px;top:163.34px;font-size:11.2px;line-height:14.56px;color:#212529;letter-spacing:-0.155px;">Maher Road Siding</span>
<span class="t" style="left:589.50px;top:163.34px;font-size:11.2px;line-height:14.56px;color:#212529;">30684-71-A</span>
<span class="t" style="left:762.72px;top:163.34px;font-size:11.2px;line-height:14.56px;color:#212529;letter-spacing:-.2px;">8.42</span>
<span class="t" style="left:852.55px;top:163.34px;font-size:11.2px;line-height:14.56px;color:#212529;">67</span>
<span class="t" style="left:923.53px;top:163.34px;font-size:11.2px;line-height:14.56px;color:#212529;">-</span>
<span class="t" style="left:985.00px;top:163.34px;font-size:11.2px;line-height:14.56px;color:#212529;letter-spacing:0.035px;">At Siding with Haulout activity</span>
<span class="t" style="left:1165.40px;top:163.34px;font-size:11.2px;line-height:14.56px;color:#212529;letter-spacing:-0.059px;">Loco 2</span>
<span class="t" style="left:1372.17px;top:163.34px;font-size:11.2px;line-height:14.56px;color:#212529;">6</span>
<span class="t" style="left:1455.95px;top:163.34px;font-size:11.2px;line-height:14.56px;color:#212529;">12</span>
<span class="t" style="left:1518.10px;top:163.34px;font-size:11.2px;line-height:14.56px;color:#212529;letter-spacing:-0.203px;">2025-12-26 00:49</span>
<span class="t" style="left:1615.50px;top:163.34px;font-size:11.2px;line-height:14.56px;color:#212529;">-</span>
<span class="t" style="left:1689.65px;top:163.34px;font-size:11.2px;line-height:14.56px;color:#212529;">20</span>
<span class="t" style="left:1764.53px;top:163.34px;font-size:11.2px;line-height:14.56px;color:#212529;letter-spacing:-.2px;">120</span>
<span class="t" style="left:1816.95px;top:163.34px;font-size:11.2px;line-height:14.56px;color:#212529;letter-spacing:-.2px;">224.3%</span>
<span class="t" style="left:1867.70px;top:163.34px;font-size:11.2px;line-height:14.56px;color:#212529;letter-spacing:-0.222px;">SJM Harvester 3</span>
<span class="t" style="left:2014.05px;top:163.34px;font-size:11.2px;line-height:14.56px;color:#212529;letter-spacing:0.074px;">Cutting</span>
<span class="t" style="left:2102.67px;top:163.34px;font-size:11.2px;line-height:14.56px;color:#212529;letter-spacing:-.2px;">47.7%</span>
<span class="t" style="left:2178.20px;top:163.34px;font-size:11.2px;line-height:14.56px;color:#212529;letter-spacing:-.2px;">269.1</span>
<span class="t" style="left:2255.72px;top:163.34px;font-size:11.2px;line-height:14.56px;color:#212529;letter-spacing:-.2px;">4.02</span>
<svg class="i" style="left:2295.90px;top:162.10px" width="11" height="11" viewBox="0 0 16 16" fill="#2b2b4b" ><path d="M15.502 1.94a.5.5 0 0 1 0 .706L14.459 3.69l-2-2L13.502.646a.5.5 0 0 1 .707 0l1.293 1.293zm-1.75 2.456-2-2L4.939 9.21a.5.5 0 0 0-.121.196l-.805 2.414a.25.25 0 0 0 .316.316l2.414-.805a.5.5 0 0 0 .196-.12l6.813-6.814z"/><path fill-rule="evenodd" d="M1 13.5A1.5 1.5 0 0 0 2.5 15h11a1.5 1.5 0 0 0 1.5-1.5v-6a.5.5 0 0 0-1 0v6a.5.5 0 0 1-.5.5h-11a.5.5 0 0 1-.5-.5v-11a.5.5 0 0 1 .5-.5H9a.5.5 0 0 0 0-1H2.5A1.5 1.5 0 0 0 1 2.5z"/></svg>
<div class="b" style="left:7px;top:186px;width:2306px;height:28px;background:#f2f2f2;"></div>
<div class="b" style="left:584px;top:186px;width:287px;height:28px;background:#f2e6de;"></div>
<div class="b" style="left:1160px;top:186px;width:495px;height:28px;background:#e8e0f0;"></div>
<div class="b" style="left:1655px;top:186px;width:206px;height:28px;background:#f0dee8;"></div>
<div class="b" style="left:1861px;top:186px;width:423px;height:28px;background:#d9ebe0;"></div>
<div class="b" style="left:7px;top:214px;width:2306px;height:1px;background:#dee2e6;"></div>
<div class="cbs" style="left:19.4px;top:193.0px"></div>
<span class="t" style="left:49.00px;top:192.34px;font-size:11.2px;line-height:14.56px;color:#212529;letter-spacing:-0.062px;">Mulgrave Mill (Test)</span>
<span class="t" style="left:319.00px;top:192.34px;font-size:11.2px;line-height:14.56px;color:#212529;letter-spacing:-0.05px;">Goldsborough Road Siding</span>
<span class="t" style="left:589.50px;top:192.34px;font-size:11.2px;line-height:14.56px;color:#212529;">-</span>
<span class="t" style="left:780.77px;top:192.34px;font-size:11.2px;line-height:14.56px;color:#212529;">-</span>
<span class="t" style="left:861.27px;top:192.34px;font-size:11.2px;line-height:14.56px;color:#212529;">-</span>
<span class="t" style="left:923.53px;top:192.34px;font-size:11.2px;line-height:14.56px;color:#212529;">-</span>
<span class="t" style="left:985.00px;top:192.34px;font-size:11.2px;line-height:14.56px;color:#212529;">-</span>
<span class="t" style="left:1165.40px;top:192.34px;font-size:11.2px;line-height:14.56px;color:#212529;letter-spacing:0.183px;">- None -</span>
<span class="t" style="left:1362.84px;top:192.34px;font-size:11.2px;line-height:14.56px;color:#212529;letter-spacing:-.2px;">3.3</span>
<span class="t" style="left:1455.95px;top:192.34px;font-size:11.2px;line-height:14.56px;color:#212529;">14</span>
<span class="t" style="left:1518.50px;top:192.34px;font-size:11.2px;line-height:14.56px;color:#212529;letter-spacing:-0.23px;">2025-12-26 00:53</span>
<span class="t" style="left:1615.50px;top:192.34px;font-size:11.2px;line-height:14.56px;color:#212529;">-</span>
<span class="t" style="left:1689.65px;top:192.34px;font-size:11.2px;line-height:14.56px;color:#212529;">33</span>
<span class="t" style="left:1764.53px;top:192.34px;font-size:11.2px;line-height:14.56px;color:#212529;letter-spacing:-.2px;">132</span>
<span class="t" style="left:1829.40px;top:192.34px;font-size:11.2px;line-height:14.56px;color:#212529;letter-spacing:-.2px;">0.0%</span>
<span class="t" style="left:1867.70px;top:192.34px;font-size:11.2px;line-height:14.56px;color:#212529;">-</span>
<span class="t" style="left:2118.23px;top:192.34px;font-size:11.2px;line-height:14.56px;color:#212529;">0%</span>
<span class="t" style="left:2190.64px;top:192.34px;font-size:11.2px;line-height:14.56px;color:#212529;letter-spacing:-.2px;">0.0</span>
<span class="t" style="left:2255.72px;top:192.34px;font-size:11.2px;line-height:14.56px;color:#212529;letter-spacing:-.2px;">0.00</span>
<svg class="i" style="left:2295.90px;top:192.10px" width="11" height="11" viewBox="0 0 16 16" fill="#2b2b4b" ><path d="M15.502 1.94a.5.5 0 0 1 0 .706L14.459 3.69l-2-2L13.502.646a.5.5 0 0 1 .707 0l1.293 1.293zm-1.75 2.456-2-2L4.939 9.21a.5.5 0 0 0-.121.196l-.805 2.414a.25.25 0 0 0 .316.316l2.414-.805a.5.5 0 0 0 .196-.12l6.813-6.814z"/><path fill-rule="evenodd" d="M1 13.5A1.5 1.5 0 0 0 2.5 15h11a1.5 1.5 0 0 0 1.5-1.5v-6a.5.5 0 0 0-1 0v6a.5.5 0 0 1-.5.5h-11a.5.5 0 0 1-.5-.5v-11a.5.5 0 0 1 .5-.5H9a.5.5 0 0 0 0-1H2.5A1.5 1.5 0 0 0 1 2.5z"/></svg>
<div class="b" style="left:584px;top:215px;width:287px;height:29px;background:#fef1e8;"></div>
<div class="b" style="left:1160px;top:215px;width:495px;height:29px;background:#f5edfd;"></div>
<div class="b" style="left:1655px;top:215px;width:206px;height:29px;background:#fdebf3;"></div>
<div class="b" style="left:1861px;top:215px;width:423px;height:29px;background:#e8f7ee;"></div>
<div class="b" style="left:7px;top:244px;width:2306px;height:1px;background:#dee2e6;"></div>
<div class="cbs" style="left:19.4px;top:222.0px"></div>
<span class="t" style="left:49.00px;top:222.34px;font-size:11.2px;line-height:14.56px;color:#212529;letter-spacing:-0.062px;">Mulgrave Mill (Test)</span>
<span class="t" style="left:319.00px;top:222.34px;font-size:11.2px;line-height:14.56px;color:#212529;letter-spacing:-0.132px;">McPaul Creek Siding</span>
<span class="t" style="left:589.50px;top:222.34px;font-size:11.2px;line-height:14.56px;color:#212529;">100-4-B</span>
<span class="t" style="left:762.72px;top:222.34px;font-size:11.2px;line-height:14.56px;color:#212529;letter-spacing:-.2px;">2.59</span>
<span class="t" style="left:852.55px;top:222.34px;font-size:11.2px;line-height:14.56px;color:#212529;">40</span>
<span class="t" style="left:923.53px;top:222.34px;font-size:11.2px;line-height:14.56px;color:#212529;">-</span>
<span class="t" style="left:985.00px;top:222.34px;font-size:11.2px;line-height:14.56px;color:#212529;">-</span>
<span class="t" style="left:1165.40px;top:222.34px;font-size:11.2px;line-height:14.56px;color:#212529;letter-spacing:0.183px;">- None -</span>
<span class="t" style="left:1374.67px;top:222.34px;font-size:11.2px;line-height:14.56px;color:#212529;">-</span>
<span class="t" style="left:1455.95px;top:222.34px;font-size:11.2px;line-height:14.56px;color:#212529;">69</span>
<span class="t" style="left:1519.80px;top:222.34px;font-size:11.2px;line-height:14.56px;color:#212529;letter-spacing:-0.316px;">2025-12-25 10:00</span>
<span class="t" style="left:1615.50px;top:222.34px;font-size:11.2px;line-height:14.56px;color:#212529;">-</span>
<span class="t" style="left:1689.65px;top:222.34px;font-size:11.2px;line-height:14.56px;color:#212529;">22</span>
<span class="t" style="left:1770.75px;top:222.34px;font-size:11.2px;line-height:14.56px;color:#212529;">88</span>
<span class="t" style="left:1829.40px;top:222.34px;font-size:11.2px;line-height:14.56px;color:#212529;letter-spacing:-.2px;">0.0%</span>
<span class="t" style="left:1867.70px;top:222.34px;font-size:11.2px;line-height:14.56px;color:#212529;">-</span>
<span class="t" style="left:2108.90px;top:222.34px;font-size:11.2px;line-height:14.56px;color:#212529;letter-spacing:-.2px;">0.0%</span>
<span class="t" style="left:2190.64px;top:222.34px;font-size:11.2px;line-height:14.56px;color:#212529;letter-spacing:-.2px;">0.0</span>
<span class="t" style="left:2255.72px;top:222.34px;font-size:11.2px;line-height:14.56px;color:#212529;letter-spacing:-.2px;">0.00</span>
<svg class="i" style="left:2295.90px;top:221.10px" width="11" height="11" viewBox="0 0 16 16" fill="#2b2b4b" ><path d="M15.502 1.94a.5.5 0 0 1 0 .706L14.459 3.69l-2-2L13.502.646a.5.5 0 0 1 .707 0l1.293 1.293zm-1.75 2.456-2-2L4.939 9.21a.5.5 0 0 0-.121.196l-.805 2.414a.25.25 0 0 0 .316.316l2.414-.805a.5.5 0 0 0 .196-.12l6.813-6.814z"/><path fill-rule="evenodd" d="M1 13.5A1.5 1.5 0 0 0 2.5 15h11a1.5 1.5 0 0 0 1.5-1.5v-6a.5.5 0 0 0-1 0v6a.5.5 0 0 1-.5.5h-11a.5.5 0 0 1-.5-.5v-11a.5.5 0 0 1 .5-.5H9a.5.5 0 0 0 0-1H2.5A1.5 1.5 0 0 0 1 2.5z"/></svg>
<div class="b" style="left:7px;top:245px;width:2306px;height:29px;background:#f2f2f2;"></div>
<div class="b" style="left:584px;top:245px;width:287px;height:29px;background:#f2e6de;"></div>
<div class="b" style="left:1160px;top:245px;width:495px;height:29px;background:#e8e0f0;"></div>
<div class="b" style="left:1655px;top:245px;width:206px;height:29px;background:#f0dee8;"></div>
<div class="b" style="left:1861px;top:245px;width:423px;height:29px;background:#d9ebe0;"></div>
<div class="b" style="left:7px;top:274px;width:2306px;height:1px;background:#dee2e6;"></div>
<div class="cbs" style="left:19.4px;top:252.0px"></div>
<span class="t" style="left:49.00px;top:252.34px;font-size:11.2px;line-height:14.56px;color:#212529;letter-spacing:-0.155px;">Maher Road Siding</span>
<span class="t" style="left:319.00px;top:252.34px;font-size:11.2px;line-height:14.56px;color:#212529;letter-spacing:-0.178px;">Pine Creek - Yarrabah Road</span>
<span class="t" style="left:589.50px;top:252.34px;font-size:11.2px;line-height:14.56px;color:#212529;">30378-10-B</span>
<span class="t" style="left:762.72px;top:252.34px;font-size:11.2px;line-height:14.56px;color:#212529;letter-spacing:-.2px;">3.78</span>
<span class="t" style="left:852.55px;top:252.34px;font-size:11.2px;line-height:14.56px;color:#212529;">72</span>
<span class="t" style="left:923.53px;top:252.34px;font-size:11.2px;line-height:14.56px;color:#212529;">-</span>
<span class="t" style="left:985.00px;top:252.34px;font-size:11.2px;line-height:14.56px;color:#212529;">-</span>
<span class="t" style="left:1165.40px;top:252.34px;font-size:11.2px;line-height:14.56px;color:#212529;letter-spacing:0.183px;">- None -</span>
<span class="t" style="left:1362.84px;top:252.34px;font-size:11.2px;line-height:14.56px;color:#212529;letter-spacing:-.2px;">2.4</span>
<span class="t" style="left:1455.95px;top:252.34px;font-size:11.2px;line-height:14.56px;color:#212529;">38</span>
<span class="t" style="left:1522.90px;top:252.34px;font-size:11.2px;line-height:14.56px;color:#212529;letter-spacing:-0.523px;">2025-12-22 12:01</span>
<span class="t" style="left:1615.50px;top:252.34px;font-size:11.2px;line-height:14.56px;color:#212529;">-</span>
<span class="t" style="left:1689.65px;top:252.34px;font-size:11.2px;line-height:14.56px;color:#212529;">16</span>
<span class="t" style="left:1770.75px;top:252.34px;font-size:11.2px;line-height:14.56px;color:#212529;">96</span>
<span class="t" style="left:1829.40px;top:252.34px;font-size:11.2px;line-height:14.56px;color:#212529;letter-spacing:-.2px;">0.0%</span>
<span class="t" style="left:1867.70px;top:252.34px;font-size:11.2px;line-height:14.56px;color:#212529;">-</span>
<span class="t" style="left:2108.90px;top:252.34px;font-size:11.2px;line-height:14.56px;color:#212529;letter-spacing:-.2px;">0.0%</span>
<span class="t" style="left:2190.64px;top:252.34px;font-size:11.2px;line-height:14.56px;color:#212529;letter-spacing:-.2px;">0.0</span>
<span class="t" style="left:2255.72px;top:252.34px;font-size:11.2px;line-height:14.56px;color:#212529;letter-spacing:-.2px;">0.00</span>
<svg class="i" style="left:2295.90px;top:251.10px" width="11" height="11" viewBox="0 0 16 16" fill="#2b2b4b" ><path d="M15.502 1.94a.5.5 0 0 1 0 .706L14.459 3.69l-2-2L13.502.646a.5.5 0 0 1 .707 0l1.293 1.293zm-1.75 2.456-2-2L4.939 9.21a.5.5 0 0 0-.121.196l-.805 2.414a.25.25 0 0 0 .316.316l2.414-.805a.5.5 0 0 0 .196-.12l6.813-6.814z"/><path fill-rule="evenodd" d="M1 13.5A1.5 1.5 0 0 0 2.5 15h11a1.5 1.5 0 0 0 1.5-1.5v-6a.5.5 0 0 0-1 0v6a.5.5 0 0 1-.5.5h-11a.5.5 0 0 1-.5-.5v-11a.5.5 0 0 1 .5-.5H9a.5.5 0 0 0 0-1H2.5A1.5 1.5 0 0 0 1 2.5z"/></svg>
<div class="b" style="left:584px;top:275px;width:287px;height:29px;background:#fef1e8;"></div>
<div class="b" style="left:1160px;top:275px;width:495px;height:29px;background:#f5edfd;"></div>
<div class="b" style="left:1655px;top:275px;width:206px;height:29px;background:#fdebf3;"></div>
<div class="b" style="left:1861px;top:275px;width:423px;height:29px;background:#e8f7ee;"></div>
<div class="b" style="left:7px;top:304px;width:2306px;height:1px;background:#dee2e6;"></div>
<div class="cbs" style="left:19.4px;top:282.0px"></div>
<span class="t" style="left:49.00px;top:282.34px;font-size:11.2px;line-height:14.56px;color:#212529;letter-spacing:-0.062px;">Mulgrave Mill (Test)</span>
<span class="t" style="left:319.00px;top:282.34px;font-size:11.2px;line-height:14.56px;color:#212529;letter-spacing:-0.141px;">Behana Creek Siding</span>
<span class="t" style="left:589.50px;top:282.34px;font-size:11.2px;line-height:14.56px;color:#212529;">30351-5-A</span>
<span class="t" style="left:756.50px;top:282.34px;font-size:11.2px;line-height:14.56px;color:#212529;letter-spacing:-.2px;">10.46</span>
<span class="t" style="left:852.55px;top:282.34px;font-size:11.2px;line-height:14.56px;color:#212529;">73</span>
<span class="t" style="left:923.53px;top:282.34px;font-size:11.2px;line-height:14.56px;color:#212529;">-</span>
<span class="t" style="left:985.00px;top:282.34px;font-size:11.2px;line-height:14.56px;color:#212529;letter-spacing:0.035px;">At Siding with Haulout activity</span>
<span class="t" style="left:1165.40px;top:282.34px;font-size:11.2px;line-height:14.56px;color:#212529;letter-spacing:-0.059px;">Loco 3</span>
<span class="t" style="left:1362.84px;top:282.34px;font-size:11.2px;line-height:14.56px;color:#212529;letter-spacing:-.2px;">3.5</span>
<span class="t" style="left:1455.95px;top:282.34px;font-size:11.2px;line-height:14.56px;color:#212529;">35</span>
<span class="t" style="left:1518.40px;top:282.34px;font-size:11.2px;line-height:14.56px;color:#212529;letter-spacing:-0.223px;">2025-12-06 10:00</span>
<span class="t" style="left:1615.50px;top:282.34px;font-size:11.2px;line-height:14.56px;color:#212529;">-</span>
<span class="t" style="left:1689.65px;top:282.34px;font-size:11.2px;line-height:14.56px;color:#212529;">28</span>
<span class="t" style="left:1764.53px;top:282.34px;font-size:11.2px;line-height:14.56px;color:#212529;letter-spacing:-.2px;">280</span>
<span class="t" style="left:1823.17px;top:282.34px;font-size:11.2px;line-height:14.56px;color:#212529;letter-spacing:-.2px;">95.5%</span>
<span class="t" style="left:1867.70px;top:282.34px;font-size:11.2px;line-height:14.56px;color:#212529;letter-spacing:-0.251px;">SJM Harvester 2</span>
<span class="t" style="left:2014.05px;top:282.34px;font-size:11.2px;line-height:14.56px;color:#212529;letter-spacing:0.074px;">Cutting</span>
<span class="t" style="left:2102.67px;top:282.34px;font-size:11.2px;line-height:14.56px;color:#212529;letter-spacing:-.2px;">35.0%</span>
<span class="t" style="left:2178.20px;top:282.34px;font-size:11.2px;line-height:14.56px;color:#212529;letter-spacing:-.2px;">267.3</span>
<span class="t" style="left:2255.72px;top:282.34px;font-size:11.2px;line-height:14.56px;color:#212529;letter-spacing:-.2px;">3.66</span>
<svg class="i" style="left:2295.90px;top:281.10px" width="11" height="11" viewBox="0 0 16 16" fill="#2b2b4b" ><path d="M15.502 1.94a.5.5 0 0 1 0 .706L14.459 3.69l-2-2L13.502.646a.5.5 0 0 1 .707 0l1.293 1.293zm-1.75 2.456-2-2L4.939 9.21a.5.5 0 0 0-.121.196l-.805 2.414a.25.25 0 0 0 .316.316l2.414-.805a.5.5 0 0 0 .196-.12l6.813-6.814z"/><path fill-rule="evenodd" d="M1 13.5A1.5 1.5 0 0 0 2.5 15h11a1.5 1.5 0 0 0 1.5-1.5v-6a.5.5 0 0 0-1 0v6a.5.5 0 0 1-.5.5h-11a.5.5 0 0 1-.5-.5v-11a.5.5 0 0 1 .5-.5H9a.5.5 0 0 0 0-1H2.5A1.5 1.5 0 0 0 1 2.5z"/></svg>
<div class="b" style="left:583px;top:99px;width:1px;height:206px;background:#d4d6e0;"></div>
<div class="b" style="left:871px;top:99px;width:1px;height:206px;background:#d4d6e0;"></div>
<div class="b" style="left:1159px;top:99px;width:1px;height:206px;background:#d4d6e0;"></div>
<div class="b" style="left:1654px;top:99px;width:1px;height:206px;background:#d4d6e0;"></div>
<div class="b" style="left:1861px;top:99px;width:1px;height:206px;background:#d4d6e0;"></div>
<div class="b" style="left:2284px;top:99px;width:1px;height:206px;background:#d4d6e0;"></div>
<div class="b" style="left:7px;top:314.20000000000005px;width:2306px;height:1.6px;background:#36a04f;"></div>
</section>
</div></body></html>
